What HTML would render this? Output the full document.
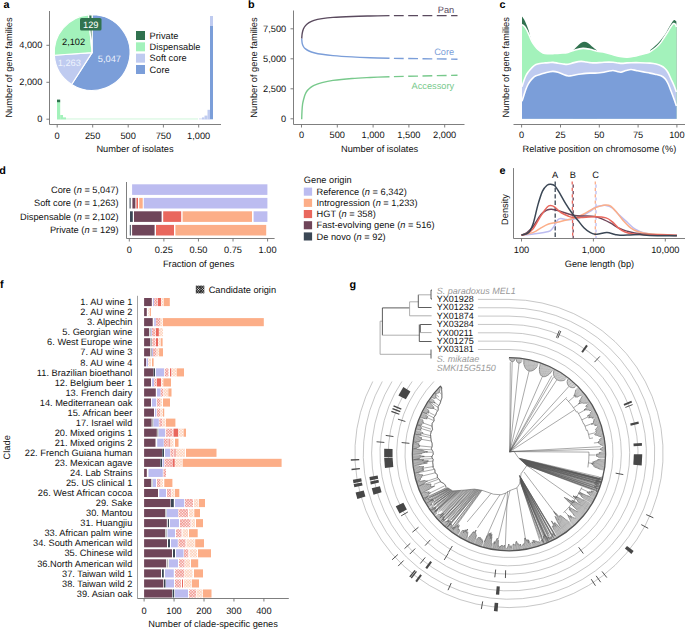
<!DOCTYPE html>
<html><head><meta charset="utf-8"><style>
html,body{margin:0;padding:0;background:#fff;}
svg{display:block;font-family:"Liberation Sans",sans-serif;text-rendering:geometricPrecision;}
</style></head><body>
<svg width="685" height="629" viewBox="0 0 685 629">
<rect width="685" height="629" fill="#fff"/>
<text x="3.50" y="7.90" font-size="10.8" font-weight="bold" fill="#000">a</text>
<line x1="49.50" y1="11.00" x2="49.50" y2="124.50" stroke="#707070" stroke-width="0.9" />
<line x1="49.50" y1="124.50" x2="221.00" y2="124.50" stroke="#707070" stroke-width="0.9" />
<line x1="46.40" y1="119.20" x2="49.50" y2="119.20" stroke="#707070" stroke-width="0.9" />
<text x="42.40" y="121.60" text-anchor="end" font-size="9.25" fill="#111" >0</text>
<line x1="46.40" y1="82.30" x2="49.50" y2="82.30" stroke="#707070" stroke-width="0.9" />
<text x="42.40" y="84.70" text-anchor="end" font-size="9.25" fill="#111" >2,000</text>
<line x1="46.40" y1="45.30" x2="49.50" y2="45.30" stroke="#707070" stroke-width="0.9" />
<text x="42.40" y="47.70" text-anchor="end" font-size="9.25" fill="#111" >4,000</text>
<line x1="57.20" y1="124.50" x2="57.20" y2="127.50" stroke="#707070" stroke-width="0.9" />
<text x="57.20" y="139.20" text-anchor="middle" font-size="9.25" fill="#111" >0</text>
<line x1="92.70" y1="124.50" x2="92.70" y2="127.50" stroke="#707070" stroke-width="0.9" />
<text x="92.70" y="139.20" text-anchor="middle" font-size="9.25" fill="#111" >250</text>
<line x1="128.20" y1="124.50" x2="128.20" y2="127.50" stroke="#707070" stroke-width="0.9" />
<text x="128.20" y="139.20" text-anchor="middle" font-size="9.25" fill="#111" >500</text>
<line x1="163.40" y1="124.50" x2="163.40" y2="127.50" stroke="#707070" stroke-width="0.9" />
<text x="163.40" y="139.20" text-anchor="middle" font-size="9.25" fill="#111" >750</text>
<line x1="198.70" y1="124.50" x2="198.70" y2="127.50" stroke="#707070" stroke-width="0.9" />
<text x="198.70" y="139.20" text-anchor="middle" font-size="9.25" fill="#111" >1,000</text>
<text x="135.00" y="151.70" text-anchor="middle" font-size="9.25" fill="#111" >Number of isolates</text>
<text x="11.90" y="67.50" text-anchor="middle" font-size="9.25" fill="#111" transform="rotate(-90 11.90 67.50)">Number of gene families</text>
<rect x="57.00" y="102.00" width="3.20" height="17.50" fill="#a3f2bb" />
<rect x="57.00" y="99.60" width="3.20" height="2.60" fill="#30724f" />
<rect x="60.20" y="115.00" width="2.80" height="4.50" fill="#a3f2bb" />
<rect x="63.00" y="117.40" width="3.00" height="2.10" fill="#a3f2bb" />
<rect x="66.00" y="118.40" width="132.00" height="1.10" fill="#d4f7de" />
<rect x="199.00" y="118.20" width="3.00" height="1.30" fill="#dfe6f8" />
<rect x="202.00" y="117.40" width="2.50" height="2.10" fill="#bfcbf0" />
<rect x="204.50" y="115.60" width="3.00" height="3.90" fill="#bfcbf0" />
<rect x="207.50" y="109.80" width="2.50" height="9.70" fill="#bfcbf0" />
<rect x="210.00" y="16.00" width="3.00" height="10.00" fill="#bfcbf0" />
<rect x="210.00" y="26.00" width="3.00" height="93.30" fill="#7b9ed9" />
<path d="M92.10,52.60 L92.10,14.70 A37.9,37.9 0 1 1 71.61,84.48 Z" fill="#7b9ed9" stroke="#fff" stroke-width="1.2" stroke-linejoin="round"/>
<path d="M92.10,52.60 L71.61,84.48 A37.9,37.9 0 0 1 54.29,55.27 Z" fill="#bfcbf0" stroke="#fff" stroke-width="1.2" stroke-linejoin="round"/>
<path d="M92.10,52.60 L54.29,55.27 A37.9,37.9 0 0 1 88.51,14.87 Z" fill="#a3f2bb" stroke="#fff" stroke-width="1.2" stroke-linejoin="round"/>
<path d="M92.10,52.60 L88.51,14.87 A37.9,37.9 0 0 1 92.10,14.70 Z" fill="#30724f" stroke="#fff" stroke-width="1.2" stroke-linejoin="round"/>
<rect x="80" y="17.9" width="21.5" height="12.6" rx="1.6" fill="#30724f"/>
<text x="90.75" y="27.60" text-anchor="middle" font-size="9.25" fill="#fff" >129</text>
<text x="73.60" y="44.80" text-anchor="middle" font-size="9.25" fill="#111" >2,102</text>
<text x="69.30" y="65.50" text-anchor="middle" font-size="9.25" fill="#eef2fc" >1,263</text>
<text x="109.40" y="61.90" text-anchor="middle" font-size="9.25" fill="#eef2fc" >5,047</text>
<rect x="136.00" y="31.00" width="9.00" height="9.00" fill="#30724f" />
<text x="149.60" y="38.70" text-anchor="start" font-size="9.25" fill="#111" >Private</text>
<rect x="136.00" y="42.33" width="9.00" height="9.00" fill="#a3f2bb" />
<text x="149.60" y="50.03" text-anchor="start" font-size="9.25" fill="#111" >Dispensable</text>
<rect x="136.00" y="53.66" width="9.00" height="9.00" fill="#bfcbf0" />
<text x="149.60" y="61.36" text-anchor="start" font-size="9.25" fill="#111" >Soft core</text>
<rect x="136.00" y="64.99" width="9.00" height="9.00" fill="#7b9ed9" />
<text x="149.60" y="72.69" text-anchor="start" font-size="9.25" fill="#111" >Core</text>
<text x="248.00" y="7.50" font-size="10.8" font-weight="bold" fill="#000">b</text>
<line x1="293.50" y1="10.50" x2="293.50" y2="124.50" stroke="#707070" stroke-width="0.9" />
<line x1="293.50" y1="124.50" x2="464.50" y2="124.50" stroke="#707070" stroke-width="0.9" />
<line x1="290.50" y1="118.80" x2="293.50" y2="118.80" stroke="#707070" stroke-width="0.9" />
<text x="286.20" y="122.20" text-anchor="end" font-size="9.25" fill="#111" >0</text>
<line x1="290.50" y1="88.80" x2="293.50" y2="88.80" stroke="#707070" stroke-width="0.9" />
<text x="286.20" y="92.20" text-anchor="end" font-size="9.25" fill="#111" >2,500</text>
<line x1="290.50" y1="58.80" x2="293.50" y2="58.80" stroke="#707070" stroke-width="0.9" />
<text x="286.20" y="62.20" text-anchor="end" font-size="9.25" fill="#111" >5,000</text>
<line x1="290.50" y1="28.80" x2="293.50" y2="28.80" stroke="#707070" stroke-width="0.9" />
<text x="286.20" y="32.20" text-anchor="end" font-size="9.25" fill="#111" >7,500</text>
<line x1="301.50" y1="124.50" x2="301.50" y2="127.50" stroke="#707070" stroke-width="0.9" />
<text x="301.50" y="138.30" text-anchor="middle" font-size="9.25" fill="#111" >0</text>
<line x1="337.30" y1="124.50" x2="337.30" y2="127.50" stroke="#707070" stroke-width="0.9" />
<text x="337.30" y="138.30" text-anchor="middle" font-size="9.25" fill="#111" >500</text>
<line x1="373.10" y1="124.50" x2="373.10" y2="127.50" stroke="#707070" stroke-width="0.9" />
<text x="373.10" y="138.30" text-anchor="middle" font-size="9.25" fill="#111" >1,000</text>
<line x1="408.90" y1="124.50" x2="408.90" y2="127.50" stroke="#707070" stroke-width="0.9" />
<text x="408.90" y="138.30" text-anchor="middle" font-size="9.25" fill="#111" >1,500</text>
<line x1="444.70" y1="124.50" x2="444.70" y2="127.50" stroke="#707070" stroke-width="0.9" />
<text x="444.70" y="138.30" text-anchor="middle" font-size="9.25" fill="#111" >2,000</text>
<text x="379.60" y="151.70" text-anchor="middle" font-size="9.25" fill="#111" >Number of isolates</text>
<text x="257.30" y="67.50" text-anchor="middle" font-size="9.25" fill="#111" transform="rotate(-90 257.30 67.50)">Number of gene families</text>
<path d="M301.70,38.60 C301.78,37.75 301.92,35.10 302.20,33.50 C302.48,31.90 302.85,30.32 303.40,29.00 C303.95,27.68 304.57,26.67 305.50,25.60 C306.43,24.53 307.58,23.48 309.00,22.60 C310.42,21.72 311.83,20.97 314.00,20.30 C316.17,19.63 318.83,19.08 322.00,18.60 C325.17,18.12 328.00,17.75 333.00,17.40 C338.00,17.05 345.83,16.73 352.00,16.50 C358.17,16.27 363.75,16.15 370.00,16.00 C376.25,15.85 386.25,15.67 389.50,15.60" fill="none" stroke="#5a4a5e" stroke-width="1.4"/>
<path d="M301.70,38.60 C301.78,39.38 301.92,41.98 302.20,43.30 C302.48,44.62 302.85,45.57 303.40,46.50 C303.95,47.43 304.57,48.15 305.50,48.90 C306.43,49.65 307.58,50.37 309.00,51.00 C310.42,51.63 311.83,52.15 314.00,52.70 C316.17,53.25 318.83,53.82 322.00,54.30 C325.17,54.78 328.00,55.17 333.00,55.60 C338.00,56.03 345.83,56.55 352.00,56.90 C358.17,57.25 363.75,57.47 370.00,57.70 C376.25,57.93 386.25,58.20 389.50,58.30" fill="none" stroke="#7b9ed9" stroke-width="1.4"/>
<path d="M301.70,119.20 C301.75,117.83 301.85,113.53 302.00,111.00 C302.15,108.47 302.33,105.92 302.60,104.00 C302.87,102.08 303.20,101.03 303.60,99.50 C304.00,97.97 304.43,96.22 305.00,94.80 C305.57,93.38 306.17,92.13 307.00,91.00 C307.83,89.87 308.83,88.93 310.00,88.00 C311.17,87.07 312.00,86.30 314.00,85.40 C316.00,84.50 318.83,83.43 322.00,82.60 C325.17,81.77 328.00,81.08 333.00,80.40 C338.00,79.72 345.83,78.98 352.00,78.50 C358.17,78.02 363.75,77.80 370.00,77.50 C376.25,77.20 386.25,76.83 389.50,76.70" fill="none" stroke="#78c98c" stroke-width="1.4"/>
<path d="M393.9,15.60 L457.5,15.60" fill="none" stroke="#5a4a5e" stroke-width="1.4" stroke-dasharray="9.8 4.5"/>
<path d="M393.9,58.35 L457.5,59.20" fill="none" stroke="#7b9ed9" stroke-width="1.4" stroke-dasharray="9.8 4.5"/>
<path d="M393.9,76.61 L457.5,75.20" fill="none" stroke="#78c98c" stroke-width="1.4" stroke-dasharray="9.8 4.5"/>
<text x="454.20" y="12.60" text-anchor="end" font-size="9.25" fill="#5a4a5e" >Pan</text>
<text x="454.20" y="54.80" text-anchor="end" font-size="9.25" fill="#7b9ed9" >Core</text>
<text x="454.20" y="89.00" text-anchor="end" font-size="9.25" fill="#78c98c" >Accessory</text>
<text x="499.60" y="7.50" font-size="10.8" font-weight="bold" fill="#000">c</text>
<line x1="513.50" y1="124.50" x2="685.00" y2="124.50" stroke="#707070" stroke-width="0.9" />
<line x1="521.60" y1="124.50" x2="521.60" y2="127.50" stroke="#707070" stroke-width="0.9" />
<text x="521.60" y="138.40" text-anchor="middle" font-size="9.25" fill="#111" >0</text>
<line x1="560.50" y1="124.50" x2="560.50" y2="127.50" stroke="#707070" stroke-width="0.9" />
<text x="560.50" y="138.40" text-anchor="middle" font-size="9.25" fill="#111" >25</text>
<line x1="599.30" y1="124.50" x2="599.30" y2="127.50" stroke="#707070" stroke-width="0.9" />
<text x="599.30" y="138.40" text-anchor="middle" font-size="9.25" fill="#111" >50</text>
<line x1="638.10" y1="124.50" x2="638.10" y2="127.50" stroke="#707070" stroke-width="0.9" />
<text x="638.10" y="138.40" text-anchor="middle" font-size="9.25" fill="#111" >75</text>
<line x1="676.90" y1="124.50" x2="676.90" y2="127.50" stroke="#707070" stroke-width="0.9" />
<text x="676.90" y="138.40" text-anchor="middle" font-size="9.25" fill="#111" >100</text>
<text x="599.40" y="151.90" text-anchor="middle" font-size="9.25" fill="#111" >Relative position on chromosome (%)</text>
<text x="508.90" y="67.30" text-anchor="middle" font-size="9.25" fill="#111" transform="rotate(-90 508.90 67.30)">Number of gene families</text>
<path d="M522.00,16.40 C522.33,16.87 523.28,17.90 524.00,19.20 C524.72,20.50 525.55,22.40 526.30,24.20 C527.05,26.00 527.85,27.95 528.50,30.00 C529.15,32.05 529.62,34.58 530.20,36.50 C530.78,38.42 531.70,40.67 532.00,41.50 L522,118.8 Z" fill="#30724f"/>
<path d="M573.00,50.40 C573.67,49.75 575.75,47.68 577.00,46.50 C578.25,45.32 579.33,44.10 580.50,43.30 C581.67,42.50 582.75,41.75 584.00,41.70 C585.25,41.65 586.67,42.20 588.00,43.00 C589.33,43.80 590.50,45.27 592.00,46.50 C593.50,47.73 596.17,49.75 597.00,50.40 L597,118.8 L573,118.8 Z" fill="#30724f"/>
<path d="M650.00,50.40 C650.83,49.67 653.33,47.57 655.00,46.00 C656.67,44.43 658.33,42.92 660.00,41.00 C661.67,39.08 663.50,36.75 665.00,34.50 C666.50,32.25 667.83,29.50 669.00,27.50 C670.17,25.50 671.12,23.75 672.00,22.50 C672.88,21.25 673.57,20.17 674.30,20.00 C675.03,19.83 676.05,21.25 676.40,21.50 L676.4,118.8 L650,118.8 Z" fill="#30724f"/>
<path d="M522.00,24.60 C522.42,24.92 523.67,25.52 524.50,26.50 C525.33,27.48 526.17,28.92 527.00,30.50 C527.83,32.08 528.67,34.17 529.50,36.00 C530.33,37.83 531.08,39.83 532.00,41.50 C532.92,43.17 534.00,44.67 535.00,46.00 C536.00,47.33 536.67,48.33 538.00,49.50 C539.33,50.67 541.33,52.28 543.00,53.00 C544.67,53.72 546.33,53.70 548.00,53.80 C549.67,53.90 551.00,53.70 553.00,53.60 C555.00,53.50 557.50,53.40 560.00,53.20 C562.50,53.00 565.50,52.95 568.00,52.40 C570.50,51.85 572.50,50.57 575.00,49.90 C577.50,49.23 580.50,48.50 583.00,48.40 C585.50,48.30 587.67,48.83 590.00,49.30 C592.33,49.77 594.50,50.68 597.00,51.20 C599.50,51.72 602.33,51.80 605.00,52.40 C607.67,53.00 610.50,54.12 613.00,54.80 C615.50,55.48 617.67,56.10 620.00,56.50 C622.33,56.90 624.67,57.23 627.00,57.20 C629.33,57.17 631.83,56.70 634.00,56.30 C636.17,55.90 638.00,55.32 640.00,54.80 C642.00,54.28 644.33,53.70 646.00,53.20 C647.67,52.70 648.33,52.75 650.00,51.80 C651.67,50.85 654.33,48.88 656.00,47.50 C657.67,46.12 658.83,44.87 660.00,43.50 C661.17,42.13 661.67,41.30 663.00,39.30 C664.33,37.30 666.67,33.63 668.00,31.50 C669.33,29.37 670.08,27.82 671.00,26.50 C671.92,25.18 672.75,23.93 673.50,23.60 C674.25,23.27 675.02,23.93 675.50,24.50 C675.98,25.07 676.25,26.58 676.40,27.00 L676.40,118.8 L522.00,118.8 Z" fill="#a3f2bb"/>
<path d="M522.00,24.60 C522.42,24.92 523.67,25.52 524.50,26.50 C525.33,27.48 526.17,28.92 527.00,30.50 C527.83,32.08 528.67,34.17 529.50,36.00 C530.33,37.83 531.08,39.83 532.00,41.50 C532.92,43.17 534.00,44.67 535.00,46.00 C536.00,47.33 536.67,48.33 538.00,49.50 C539.33,50.67 541.33,52.28 543.00,53.00 C544.67,53.72 546.33,53.70 548.00,53.80 C549.67,53.90 551.00,53.70 553.00,53.60 C555.00,53.50 557.50,53.40 560.00,53.20 C562.50,53.00 565.50,52.95 568.00,52.40 C570.50,51.85 572.50,50.57 575.00,49.90 C577.50,49.23 580.50,48.50 583.00,48.40 C585.50,48.30 587.67,48.83 590.00,49.30 C592.33,49.77 594.50,50.68 597.00,51.20 C599.50,51.72 602.33,51.80 605.00,52.40 C607.67,53.00 610.50,54.12 613.00,54.80 C615.50,55.48 617.67,56.10 620.00,56.50 C622.33,56.90 624.67,57.23 627.00,57.20 C629.33,57.17 631.83,56.70 634.00,56.30 C636.17,55.90 638.00,55.32 640.00,54.80 C642.00,54.28 644.33,53.70 646.00,53.20 C647.67,52.70 648.33,52.75 650.00,51.80 C651.67,50.85 654.33,48.88 656.00,47.50 C657.67,46.12 658.83,44.87 660.00,43.50 C661.17,42.13 661.67,41.30 663.00,39.30 C664.33,37.30 666.67,33.63 668.00,31.50 C669.33,29.37 670.08,27.82 671.00,26.50 C671.92,25.18 672.75,23.93 673.50,23.60 C674.25,23.27 675.02,23.93 675.50,24.50 C675.98,25.07 676.25,26.58 676.40,27.00" fill="none" stroke="#fff" stroke-width="1.6"/>
<path d="M522.00,86.70 C522.33,85.67 523.33,82.37 524.00,80.50 C524.67,78.63 525.33,76.88 526.00,75.50 C526.67,74.12 527.33,73.15 528.00,72.20 C528.67,71.25 529.17,70.73 530.00,69.80 C530.83,68.87 532.00,67.47 533.00,66.60 C534.00,65.73 534.83,65.12 536.00,64.60 C537.17,64.08 538.50,63.78 540.00,63.50 C541.50,63.22 543.50,63.05 545.00,62.90 C546.50,62.75 547.67,62.68 549.00,62.60 C550.33,62.52 551.50,62.30 553.00,62.40 C554.50,62.50 556.33,62.93 558.00,63.20 C559.67,63.47 561.33,63.82 563.00,64.00 C564.67,64.18 566.17,64.53 568.00,64.30 C569.83,64.07 571.83,63.08 574.00,62.60 C576.17,62.12 579.00,61.50 581.00,61.40 C583.00,61.30 584.50,61.80 586.00,62.00 C587.50,62.20 588.50,62.45 590.00,62.60 C591.50,62.75 592.67,62.97 595.00,62.90 C597.33,62.83 601.00,62.32 604.00,62.20 C607.00,62.08 610.67,62.07 613.00,62.20 C615.33,62.33 616.50,62.80 618.00,63.00 C619.50,63.20 620.50,63.42 622.00,63.40 C623.50,63.38 625.50,63.02 627.00,62.90 C628.50,62.78 628.83,62.73 631.00,62.70 C633.17,62.67 636.83,62.63 640.00,62.70 C643.17,62.77 647.33,62.88 650.00,63.10 C652.67,63.32 654.17,63.55 656.00,64.00 C657.83,64.45 659.50,65.05 661.00,65.80 C662.50,66.55 663.83,67.38 665.00,68.50 C666.17,69.62 667.00,70.75 668.00,72.50 C669.00,74.25 670.00,76.83 671.00,79.00 C672.00,81.17 673.10,83.33 674.00,85.50 C674.90,87.67 676.00,90.92 676.40,92.00 L676.40,118.8 L522.00,118.8 Z" fill="#bfcbf0"/>
<path d="M522.00,86.70 C522.33,85.67 523.33,82.37 524.00,80.50 C524.67,78.63 525.33,76.88 526.00,75.50 C526.67,74.12 527.33,73.15 528.00,72.20 C528.67,71.25 529.17,70.73 530.00,69.80 C530.83,68.87 532.00,67.47 533.00,66.60 C534.00,65.73 534.83,65.12 536.00,64.60 C537.17,64.08 538.50,63.78 540.00,63.50 C541.50,63.22 543.50,63.05 545.00,62.90 C546.50,62.75 547.67,62.68 549.00,62.60 C550.33,62.52 551.50,62.30 553.00,62.40 C554.50,62.50 556.33,62.93 558.00,63.20 C559.67,63.47 561.33,63.82 563.00,64.00 C564.67,64.18 566.17,64.53 568.00,64.30 C569.83,64.07 571.83,63.08 574.00,62.60 C576.17,62.12 579.00,61.50 581.00,61.40 C583.00,61.30 584.50,61.80 586.00,62.00 C587.50,62.20 588.50,62.45 590.00,62.60 C591.50,62.75 592.67,62.97 595.00,62.90 C597.33,62.83 601.00,62.32 604.00,62.20 C607.00,62.08 610.67,62.07 613.00,62.20 C615.33,62.33 616.50,62.80 618.00,63.00 C619.50,63.20 620.50,63.42 622.00,63.40 C623.50,63.38 625.50,63.02 627.00,62.90 C628.50,62.78 628.83,62.73 631.00,62.70 C633.17,62.67 636.83,62.63 640.00,62.70 C643.17,62.77 647.33,62.88 650.00,63.10 C652.67,63.32 654.17,63.55 656.00,64.00 C657.83,64.45 659.50,65.05 661.00,65.80 C662.50,66.55 663.83,67.38 665.00,68.50 C666.17,69.62 667.00,70.75 668.00,72.50 C669.00,74.25 670.00,76.83 671.00,79.00 C672.00,81.17 673.10,83.33 674.00,85.50 C674.90,87.67 676.00,90.92 676.40,92.00" fill="none" stroke="#fff" stroke-width="1.6"/>
<path d="M522.00,101.30 C522.33,100.25 523.33,97.05 524.00,95.00 C524.67,92.95 525.33,90.75 526.00,89.00 C526.67,87.25 527.33,85.80 528.00,84.50 C528.67,83.20 529.17,82.32 530.00,81.20 C530.83,80.08 532.00,78.70 533.00,77.80 C534.00,76.90 534.83,76.37 536.00,75.80 C537.17,75.23 538.50,74.87 540.00,74.40 C541.50,73.93 543.50,73.40 545.00,73.00 C546.50,72.60 547.67,72.27 549.00,72.00 C550.33,71.73 551.50,71.35 553.00,71.40 C554.50,71.45 556.33,71.83 558.00,72.30 C559.67,72.77 561.50,73.65 563.00,74.20 C564.50,74.75 565.83,75.32 567.00,75.60 C568.17,75.88 568.50,76.03 570.00,75.90 C571.50,75.77 574.17,75.12 576.00,74.80 C577.83,74.48 579.33,74.23 581.00,74.00 C582.67,73.77 584.50,73.55 586.00,73.40 C587.50,73.25 588.50,73.15 590.00,73.10 C591.50,73.05 593.33,73.15 595.00,73.10 C596.67,73.05 598.50,72.95 600.00,72.80 C601.50,72.65 602.67,72.45 604.00,72.20 C605.33,71.95 606.50,71.58 608.00,71.30 C609.50,71.02 611.50,70.47 613.00,70.50 C614.50,70.53 615.67,71.22 617.00,71.50 C618.33,71.78 619.50,72.35 621.00,72.20 C622.50,72.05 624.33,71.05 626.00,70.60 C627.67,70.15 629.33,69.52 631.00,69.50 C632.67,69.48 634.50,70.20 636.00,70.50 C637.50,70.80 638.50,71.02 640.00,71.30 C641.50,71.58 643.33,71.90 645.00,72.20 C646.67,72.50 648.33,72.77 650.00,73.10 C651.67,73.43 653.17,73.75 655.00,74.20 C656.83,74.65 659.33,75.07 661.00,75.80 C662.67,76.53 663.83,77.32 665.00,78.60 C666.17,79.88 667.00,81.43 668.00,83.50 C669.00,85.57 670.00,88.42 671.00,91.00 C672.00,93.58 673.10,96.50 674.00,99.00 C674.90,101.50 676.00,104.83 676.40,106.00 L676.40,118.8 L522.00,118.8 Z" fill="#7b9ed9"/>
<path d="M522.00,101.30 C522.33,100.25 523.33,97.05 524.00,95.00 C524.67,92.95 525.33,90.75 526.00,89.00 C526.67,87.25 527.33,85.80 528.00,84.50 C528.67,83.20 529.17,82.32 530.00,81.20 C530.83,80.08 532.00,78.70 533.00,77.80 C534.00,76.90 534.83,76.37 536.00,75.80 C537.17,75.23 538.50,74.87 540.00,74.40 C541.50,73.93 543.50,73.40 545.00,73.00 C546.50,72.60 547.67,72.27 549.00,72.00 C550.33,71.73 551.50,71.35 553.00,71.40 C554.50,71.45 556.33,71.83 558.00,72.30 C559.67,72.77 561.50,73.65 563.00,74.20 C564.50,74.75 565.83,75.32 567.00,75.60 C568.17,75.88 568.50,76.03 570.00,75.90 C571.50,75.77 574.17,75.12 576.00,74.80 C577.83,74.48 579.33,74.23 581.00,74.00 C582.67,73.77 584.50,73.55 586.00,73.40 C587.50,73.25 588.50,73.15 590.00,73.10 C591.50,73.05 593.33,73.15 595.00,73.10 C596.67,73.05 598.50,72.95 600.00,72.80 C601.50,72.65 602.67,72.45 604.00,72.20 C605.33,71.95 606.50,71.58 608.00,71.30 C609.50,71.02 611.50,70.47 613.00,70.50 C614.50,70.53 615.67,71.22 617.00,71.50 C618.33,71.78 619.50,72.35 621.00,72.20 C622.50,72.05 624.33,71.05 626.00,70.60 C627.67,70.15 629.33,69.52 631.00,69.50 C632.67,69.48 634.50,70.20 636.00,70.50 C637.50,70.80 638.50,71.02 640.00,71.30 C641.50,71.58 643.33,71.90 645.00,72.20 C646.67,72.50 648.33,72.77 650.00,73.10 C651.67,73.43 653.17,73.75 655.00,74.20 C656.83,74.65 659.33,75.07 661.00,75.80 C662.67,76.53 663.83,77.32 665.00,78.60 C666.17,79.88 667.00,81.43 668.00,83.50 C669.00,85.57 670.00,88.42 671.00,91.00 C672.00,93.58 673.10,96.50 674.00,99.00 C674.90,101.50 676.00,104.83 676.40,106.00" fill="none" stroke="#fff" stroke-width="1.6"/>
<text x="-0.80" y="173.60" font-size="10.8" font-weight="bold" fill="#000">d</text>
<line x1="126.50" y1="182.00" x2="126.50" y2="238.50" stroke="#707070" stroke-width="0.9" />
<line x1="126.50" y1="238.50" x2="274.60" y2="238.50" stroke="#707070" stroke-width="0.9" />
<line x1="129.30" y1="238.50" x2="129.30" y2="241.50" stroke="#707070" stroke-width="0.9" />
<text x="129.30" y="253.00" text-anchor="middle" font-size="9.25" fill="#111" >0</text>
<line x1="163.88" y1="238.50" x2="163.88" y2="241.50" stroke="#707070" stroke-width="0.9" />
<text x="163.88" y="253.00" text-anchor="middle" font-size="9.25" fill="#111" >0.25</text>
<line x1="198.45" y1="238.50" x2="198.45" y2="241.50" stroke="#707070" stroke-width="0.9" />
<text x="198.45" y="253.00" text-anchor="middle" font-size="9.25" fill="#111" >0.50</text>
<line x1="233.03" y1="238.50" x2="233.03" y2="241.50" stroke="#707070" stroke-width="0.9" />
<text x="233.03" y="253.00" text-anchor="middle" font-size="9.25" fill="#111" >0.75</text>
<line x1="267.60" y1="238.50" x2="267.60" y2="241.50" stroke="#707070" stroke-width="0.9" />
<text x="267.60" y="253.00" text-anchor="middle" font-size="9.25" fill="#111" >1.00</text>
<text x="198.70" y="266.60" text-anchor="middle" font-size="9.25" fill="#111" >Fraction of genes</text>
<text x="118.60" y="192.80" text-anchor="end" font-size="9.25" fill="#111" >Core (<tspan font-style="italic">n</tspan> = 5,047)</text>
<rect x="132.10" y="184.30" width="135.30" height="10.60" fill="#bcbcf0" />
<text x="118.60" y="206.40" text-anchor="end" font-size="9.25" fill="#111" >Soft core (<tspan font-style="italic">n</tspan> = 1,263)</text>
<rect x="129.60" y="197.90" width="1.00" height="10.60" fill="#3b4755" />
<rect x="132.40" y="197.90" width="3.00" height="10.60" fill="#6f4559" />
<rect x="136.40" y="197.90" width="1.60" height="10.60" fill="#e9675d" />
<rect x="139.20" y="197.90" width="3.50" height="10.60" fill="#fcae88" />
<rect x="143.80" y="197.90" width="123.60" height="10.60" fill="#bcbcf0" />
<text x="118.60" y="219.80" text-anchor="end" font-size="9.25" fill="#111" >Dispensable (<tspan font-style="italic">n</tspan> = 2,102)</text>
<rect x="130.00" y="211.30" width="2.80" height="10.60" fill="#3b4755" />
<rect x="134.00" y="211.30" width="27.60" height="10.60" fill="#6f4559" />
<rect x="163.20" y="211.30" width="18.00" height="10.60" fill="#e9675d" />
<rect x="182.60" y="211.30" width="69.40" height="10.60" fill="#fcae88" />
<rect x="253.60" y="211.30" width="13.80" height="10.60" fill="#bcbcf0" />
<text x="118.60" y="233.40" text-anchor="end" font-size="9.25" fill="#111" >Private (<tspan font-style="italic">n</tspan> = 129)</text>
<rect x="129.80" y="224.90" width="1.00" height="10.60" fill="#3b4755" />
<rect x="132.10" y="224.90" width="22.50" height="10.60" fill="#6f4559" />
<rect x="156.00" y="224.90" width="18.00" height="10.60" fill="#e9675d" />
<rect x="175.40" y="224.90" width="90.80" height="10.60" fill="#fcae88" />
<text x="303.80" y="183.20" text-anchor="start" font-size="9.25" fill="#111" >Gene origin</text>
<rect x="303.80" y="187.60" width="8.30" height="8.10" fill="#bcbcf0" />
<text x="316.50" y="194.85" text-anchor="start" font-size="9.25" fill="#111" >Reference (<tspan font-style="italic">n</tspan> = 6,342)</text>
<rect x="303.80" y="198.80" width="8.30" height="8.10" fill="#fcae88" />
<text x="316.50" y="206.05" text-anchor="start" font-size="9.25" fill="#111" >Introgression (<tspan font-style="italic">n</tspan> = 1,233)</text>
<rect x="303.80" y="210.00" width="8.30" height="8.10" fill="#e9675d" />
<text x="316.50" y="217.25" text-anchor="start" font-size="9.25" fill="#111" >HGT (<tspan font-style="italic">n</tspan> = 358)</text>
<rect x="303.80" y="221.20" width="8.30" height="8.10" fill="#6f4559" />
<text x="316.50" y="228.45" text-anchor="start" font-size="9.25" fill="#111" >Fast-evolving gene (<tspan font-style="italic">n</tspan> = 516)</text>
<rect x="303.80" y="232.40" width="8.30" height="8.10" fill="#3b4755" />
<text x="316.50" y="239.65" text-anchor="start" font-size="9.25" fill="#111" >De novo (<tspan font-style="italic">n</tspan> = 92)</text>
<text x="499.40" y="173.80" font-size="10.8" font-weight="bold" fill="#000">e</text>
<line x1="513.50" y1="168.10" x2="513.50" y2="238.50" stroke="#707070" stroke-width="0.9" />
<line x1="513.50" y1="238.50" x2="685.00" y2="238.50" stroke="#707070" stroke-width="0.9" />
<line x1="521.50" y1="238.50" x2="521.50" y2="241.50" stroke="#707070" stroke-width="0.9" />
<text x="521.50" y="252.70" text-anchor="middle" font-size="9.25" fill="#111" >100</text>
<line x1="593.40" y1="238.50" x2="593.40" y2="241.50" stroke="#707070" stroke-width="0.9" />
<text x="593.40" y="252.70" text-anchor="middle" font-size="9.25" fill="#111" >1,000</text>
<line x1="665.30" y1="238.50" x2="665.30" y2="241.50" stroke="#707070" stroke-width="0.9" />
<text x="665.30" y="252.70" text-anchor="middle" font-size="9.25" fill="#111" >10,000</text>
<text x="599.40" y="267.10" text-anchor="middle" font-size="9.25" fill="#111" >Gene length (bp)</text>
<text x="507.80" y="209.50" text-anchor="middle" font-size="9.25" fill="#111" transform="rotate(-90 507.80 209.50)">Density</text>
<line x1="555.20" y1="181.40" x2="555.20" y2="238.30" stroke="#3b4755" stroke-width="1.3" stroke-dasharray="4.3 2.1"/>
<line x1="572.20" y1="181.40" x2="572.70" y2="238.30" stroke="#e9675d" stroke-width="1.3" stroke-dasharray="3.2 3.2"/>
<line x1="573.20" y1="181.40" x2="573.20" y2="238.30" stroke="#6f4559" stroke-width="1.3" stroke-dasharray="3.2 3.2" stroke-dashoffset="3.2"/>
<line x1="595.30" y1="181.40" x2="595.30" y2="238.30" stroke="#fcae88" stroke-width="1.3" stroke-dasharray="3.2 3.2"/>
<line x1="596.00" y1="181.40" x2="596.00" y2="238.30" stroke="#bcbcf0" stroke-width="1.3" stroke-dasharray="3.2 3.2" stroke-dashoffset="3.2"/>
<text x="555.10" y="177.90" text-anchor="middle" font-size="9.25" fill="#111" >A</text>
<text x="572.80" y="177.90" text-anchor="middle" font-size="9.25" fill="#111" >B</text>
<text x="595.60" y="177.90" text-anchor="middle" font-size="9.25" fill="#111" >C</text>
<path d="M521.50,235.20 C523.47,235.00 529.55,234.47 533.30,234.00 C537.05,233.53 541.18,232.92 544.00,232.40 C546.82,231.88 548.53,231.92 550.20,230.90 C551.87,229.88 552.73,228.15 554.00,226.30 C555.27,224.45 556.65,221.10 557.80,219.80 C558.95,218.50 559.62,218.57 560.90,218.50 C562.18,218.43 563.72,219.22 565.50,219.40 C567.28,219.58 569.05,220.02 571.60,219.60 C574.15,219.18 577.73,218.25 580.80,216.90 C583.87,215.55 587.58,213.12 590.00,211.50 C592.42,209.88 593.63,208.13 595.30,207.20 C596.97,206.27 598.22,206.20 600.00,205.90 C601.78,205.60 603.97,205.07 606.00,205.40 C608.03,205.73 609.88,206.20 612.20,207.90 C614.52,209.60 617.35,213.17 619.90,215.60 C622.45,218.03 624.95,220.23 627.50,222.50 C630.05,224.77 632.38,227.45 635.20,229.20 C638.02,230.95 641.10,232.10 644.40,233.00 C647.70,233.90 649.58,234.22 655.00,234.60 C660.42,234.98 673.25,235.18 676.90,235.30" fill="none" stroke="#bcbcf0" stroke-width="1.5"/>
<path d="M521.50,235.20 C523.47,234.73 530.05,233.63 533.30,232.40 C536.55,231.17 538.45,229.20 541.00,227.80 C543.55,226.40 546.05,224.88 548.60,224.00 C551.15,223.12 553.48,223.13 556.30,222.50 C559.12,221.87 562.43,220.97 565.50,220.20 C568.57,219.43 571.63,218.93 574.70,217.90 C577.77,216.87 580.83,215.53 583.90,214.00 C586.97,212.47 590.42,210.02 593.10,208.70 C595.78,207.38 597.85,206.73 600.00,206.10 C602.15,205.47 604.22,204.90 606.00,204.90 C607.78,204.90 608.90,204.83 610.70,206.10 C612.50,207.37 614.77,210.15 616.80,212.50 C618.83,214.85 620.60,217.65 622.90,220.20 C625.20,222.75 628.05,225.88 630.60,227.80 C633.15,229.72 635.13,230.72 638.20,231.70 C641.27,232.68 642.55,233.12 649.00,233.70 C655.45,234.28 672.25,234.95 676.90,235.20" fill="none" stroke="#fcae88" stroke-width="1.5"/>
<path d="M521.50,235.20 C522.42,234.75 525.03,233.98 527.00,232.50 C528.97,231.02 530.97,229.30 533.30,226.30 C535.63,223.30 538.70,217.22 541.00,214.50 C543.30,211.78 545.32,210.88 547.10,210.00 C548.88,209.12 549.65,209.03 551.70,209.20 C553.75,209.37 556.58,210.20 559.40,211.00 C562.22,211.80 566.05,213.23 568.60,214.00 C571.15,214.77 572.15,215.27 574.70,215.60 C577.25,215.93 580.58,215.85 583.90,216.00 C587.22,216.15 591.42,215.93 594.60,216.50 C597.78,217.07 600.32,218.28 603.00,219.40 C605.68,220.52 608.15,221.80 610.70,223.20 C613.25,224.60 615.75,226.52 618.30,227.80 C620.85,229.08 622.17,229.87 626.00,230.90 C629.83,231.93 632.82,233.23 641.30,234.00 C649.78,234.77 670.97,235.25 676.90,235.50" fill="none" stroke="#6f4559" stroke-width="1.5"/>
<path d="M521.50,235.20 C522.42,234.92 525.03,234.62 527.00,233.50 C528.97,232.38 530.97,231.48 533.30,228.50 C535.63,225.52 538.70,219.15 541.00,215.60 C543.30,212.05 545.52,208.87 547.10,207.20 C548.68,205.53 549.22,205.60 550.50,205.60 C551.78,205.60 553.07,206.05 554.80,207.20 C556.53,208.35 558.60,210.98 560.90,212.50 C563.20,214.02 566.55,215.45 568.60,216.30 C570.65,217.15 571.17,217.38 573.20,217.60 C575.23,217.82 577.12,217.73 580.80,217.60 C584.48,217.47 591.10,216.75 595.30,216.80 C599.50,216.85 603.18,217.08 606.00,217.90 C608.82,218.72 610.15,220.05 612.20,221.70 C614.25,223.35 616.25,226.13 618.30,227.80 C620.35,229.47 621.95,230.67 624.50,231.70 C627.05,232.73 629.52,233.50 633.60,234.00 C637.68,234.50 641.78,234.45 649.00,234.70 C656.22,234.95 672.25,235.37 676.90,235.50" fill="none" stroke="#e9675d" stroke-width="1.5"/>
<path d="M521.50,235.20 C522.70,234.73 526.73,234.40 528.70,232.40 C530.67,230.40 531.77,227.78 533.30,223.20 C534.83,218.62 536.37,210.25 537.90,204.90 C539.43,199.55 540.97,194.38 542.50,191.10 C544.03,187.82 545.77,186.35 547.10,185.20 C548.43,184.05 549.22,184.12 550.50,184.20 C551.78,184.28 553.32,184.30 554.80,185.70 C556.28,187.10 557.62,189.67 559.40,192.60 C561.18,195.53 563.47,199.98 565.50,203.30 C567.53,206.62 569.55,209.68 571.60,212.50 C573.65,215.32 575.75,217.65 577.80,220.20 C579.85,222.75 581.87,225.77 583.90,227.80 C585.93,229.83 588.15,231.33 590.00,232.40 C591.85,233.47 593.33,233.98 595.00,234.20 C596.67,234.42 598.00,233.97 600.00,233.70 C602.00,233.43 604.50,232.47 607.00,232.60 C609.50,232.73 612.83,234.05 615.00,234.50 C617.17,234.95 617.50,235.22 620.00,235.30 C622.50,235.38 626.67,235.12 630.00,235.00 C633.33,234.88 636.67,234.53 640.00,234.60 C643.33,234.67 643.85,235.20 650.00,235.40 C656.15,235.60 672.42,235.73 676.90,235.80" fill="none" stroke="#3b4755" stroke-width="1.5"/>
<text x="0.10" y="287.90" font-size="10.8" font-weight="bold" fill="#000">f</text>
<defs><pattern id="hh" width="2.0" height="2.0" patternUnits="userSpaceOnUse" patternTransform="rotate(45)"><rect width="2.0" height="2.0" fill="#fff"/><path d="M0,0.45 H2 M0.45,0 V2" stroke="#e9675d" stroke-width="0.62" opacity="0.9"/></pattern><pattern id="hi" width="2.0" height="2.0" patternUnits="userSpaceOnUse" patternTransform="rotate(45)"><rect width="2.0" height="2.0" fill="#fff"/><path d="M0,0.45 H2 M0.45,0 V2" stroke="#fcae88" stroke-width="0.55" opacity="0.85"/></pattern><pattern id="hk" width="1.8" height="1.8" patternUnits="userSpaceOnUse" patternTransform="rotate(45)"><rect width="1.8" height="1.8" fill="#fff"/><path d="M0,0.45 H1.8 M0.45,0 V1.8" stroke="#222" stroke-width="0.95"/></pattern></defs>
<rect x="195.80" y="285.60" width="8.50" height="7.80" fill="url(#hk)" />
<text x="208.70" y="292.80" text-anchor="start" font-size="9.25" fill="#111" >Candidate origin</text>
<line x1="137.50" y1="295.80" x2="137.50" y2="598.60" stroke="#8a8a8a" stroke-width="0.8" />
<line x1="137.50" y1="598.50" x2="288.80" y2="598.50" stroke="#707070" stroke-width="0.9" />
<line x1="144.10" y1="598.50" x2="144.10" y2="601.50" stroke="#707070" stroke-width="0.9" />
<text x="144.10" y="613.60" text-anchor="middle" font-size="9.25" fill="#111" >0</text>
<line x1="174.05" y1="598.50" x2="174.05" y2="601.50" stroke="#707070" stroke-width="0.9" />
<text x="174.05" y="613.60" text-anchor="middle" font-size="9.25" fill="#111" >100</text>
<line x1="204.00" y1="598.50" x2="204.00" y2="601.50" stroke="#707070" stroke-width="0.9" />
<text x="204.00" y="613.60" text-anchor="middle" font-size="9.25" fill="#111" >200</text>
<line x1="233.95" y1="598.50" x2="233.95" y2="601.50" stroke="#707070" stroke-width="0.9" />
<text x="233.95" y="613.60" text-anchor="middle" font-size="9.25" fill="#111" >300</text>
<line x1="263.90" y1="598.50" x2="263.90" y2="601.50" stroke="#707070" stroke-width="0.9" />
<text x="263.90" y="613.60" text-anchor="middle" font-size="9.25" fill="#111" >400</text>
<text x="213.10" y="626.50" text-anchor="middle" font-size="9.25" fill="#111" >Number of clade-specific genes</text>
<text x="10.50" y="447.30" text-anchor="middle" font-size="9.25" fill="#111" transform="rotate(-90 10.50 447.30)">Clade</text>
<text x="132.30" y="305.20" text-anchor="end" font-size="9.25" fill="#111" >1. AU wine 1</text>
<rect x="144.10" y="298.00" width="7.70" height="8.10" fill="#6f4559" />
<rect x="153.00" y="298.00" width="1.00" height="8.10" fill="#bcbcf0" />
<rect x="154.20" y="298.00" width="3.40" height="8.10" fill="url(#hh)" />
<rect x="158.00" y="298.00" width="3.00" height="8.10" fill="#e9675d" />
<rect x="161.30" y="298.00" width="2.20" height="8.10" fill="url(#hi)" />
<rect x="163.80" y="298.00" width="6.00" height="8.10" fill="#fcae88" />
<text x="132.30" y="315.25" text-anchor="end" font-size="9.25" fill="#111" >2. AU wine 2</text>
<rect x="144.10" y="308.05" width="2.70" height="8.10" fill="#6f4559" />
<rect x="148.30" y="308.05" width="1.50" height="8.10" fill="url(#hi)" />
<rect x="150.10" y="308.05" width="0.90" height="8.10" fill="#fcae88" />
<text x="132.30" y="325.30" text-anchor="end" font-size="9.25" fill="#111" >3. Alpechin</text>
<rect x="144.10" y="318.10" width="8.60" height="8.10" fill="#6f4559" />
<rect x="154.20" y="318.10" width="1.60" height="8.10" fill="#bcbcf0" />
<rect x="156.00" y="318.10" width="4.00" height="8.10" fill="url(#hh)" />
<rect x="160.00" y="318.10" width="2.50" height="8.10" fill="url(#hi)" />
<rect x="163.00" y="318.10" width="100.80" height="8.10" fill="#fcae88" />
<text x="132.30" y="335.35" text-anchor="end" font-size="9.25" fill="#111" >5. Georgian wine</text>
<rect x="144.10" y="328.15" width="4.90" height="8.10" fill="#6f4559" />
<rect x="149.50" y="328.15" width="1.30" height="8.10" fill="#b5b5b5" />
<rect x="151.00" y="328.15" width="0.80" height="8.10" fill="#bcbcf0" />
<rect x="152.00" y="328.15" width="3.50" height="8.10" fill="url(#hh)" />
<rect x="156.00" y="328.15" width="2.80" height="8.10" fill="#e9675d" />
<rect x="159.00" y="328.15" width="4.00" height="8.10" fill="url(#hi)" />
<text x="132.30" y="345.40" text-anchor="end" font-size="9.25" fill="#111" >6. West Europe wine</text>
<rect x="144.10" y="338.20" width="6.00" height="8.10" fill="#6f4559" />
<rect x="150.30" y="338.20" width="1.70" height="8.10" fill="#b5b5b5" />
<rect x="152.30" y="338.20" width="3.20" height="8.10" fill="url(#hh)" />
<rect x="156.00" y="338.20" width="2.00" height="8.10" fill="#e9675d" />
<rect x="158.30" y="338.20" width="2.20" height="8.10" fill="url(#hi)" />
<rect x="160.80" y="338.20" width="1.80" height="8.10" fill="#fcae88" />
<text x="132.30" y="355.45" text-anchor="end" font-size="9.25" fill="#111" >7. AU wine 3</text>
<rect x="144.10" y="348.25" width="6.00" height="8.10" fill="#6f4559" />
<rect x="150.50" y="348.25" width="1.50" height="8.10" fill="#b5b5b5" />
<rect x="152.00" y="348.25" width="1.00" height="8.10" fill="#bcbcf0" />
<rect x="153.00" y="348.25" width="3.50" height="8.10" fill="url(#hh)" />
<rect x="156.50" y="348.25" width="2.30" height="8.10" fill="url(#hi)" />
<rect x="159.10" y="348.25" width="3.90" height="8.10" fill="#fcae88" />
<text x="132.30" y="365.50" text-anchor="end" font-size="9.25" fill="#111" >8. AU wine 4</text>
<rect x="144.10" y="358.30" width="1.90" height="8.10" fill="#6f4559" />
<rect x="146.50" y="358.30" width="1.50" height="8.10" fill="#bcbcf0" />
<rect x="148.30" y="358.30" width="2.70" height="8.10" fill="url(#hi)" />
<rect x="152.00" y="358.30" width="1.60" height="8.10" fill="#fcae88" />
<text x="132.30" y="375.55" text-anchor="end" font-size="9.25" fill="#111" >11. Brazilian bioethanol</text>
<rect x="144.10" y="368.35" width="9.40" height="8.10" fill="#6f4559" />
<rect x="153.70" y="368.35" width="1.30" height="8.10" fill="#3b4755" />
<rect x="155.90" y="368.35" width="8.10" height="8.10" fill="#bcbcf0" />
<rect x="164.80" y="368.35" width="3.70" height="8.10" fill="url(#hh)" />
<rect x="170.00" y="368.35" width="1.30" height="8.10" fill="#e9675d" />
<rect x="171.80" y="368.35" width="4.20" height="8.10" fill="url(#hi)" />
<rect x="176.60" y="368.35" width="7.40" height="8.10" fill="#fcae88" />
<text x="132.30" y="385.60" text-anchor="end" font-size="9.25" fill="#111" >12. Belgium beer 1</text>
<rect x="144.10" y="378.40" width="6.90" height="8.10" fill="#6f4559" />
<rect x="152.00" y="378.40" width="2.00" height="8.10" fill="#bcbcf0" />
<rect x="154.30" y="378.40" width="1.90" height="8.10" fill="url(#hh)" />
<rect x="156.80" y="378.40" width="4.20" height="8.10" fill="#e9675d" />
<rect x="161.50" y="378.40" width="1.50" height="8.10" fill="url(#hi)" />
<rect x="163.30" y="378.40" width="7.70" height="8.10" fill="#fcae88" />
<text x="132.30" y="395.65" text-anchor="end" font-size="9.25" fill="#111" >13. French dairy</text>
<rect x="144.10" y="388.45" width="11.70" height="8.10" fill="#6f4559" />
<rect x="157.00" y="388.45" width="3.60" height="8.10" fill="#bcbcf0" />
<rect x="160.80" y="388.45" width="2.50" height="8.10" fill="url(#hh)" />
<rect x="164.00" y="388.45" width="4.00" height="8.10" fill="url(#hi)" />
<rect x="168.30" y="388.45" width="3.20" height="8.10" fill="#fcae88" />
<text x="132.30" y="405.70" text-anchor="end" font-size="9.25" fill="#111" >14. Mediterranean oak</text>
<rect x="144.10" y="398.50" width="6.90" height="8.10" fill="#6f4559" />
<rect x="152.00" y="398.50" width="4.20" height="8.10" fill="#bcbcf0" />
<rect x="157.00" y="398.50" width="3.00" height="8.10" fill="url(#hh)" />
<rect x="160.00" y="398.50" width="2.00" height="8.10" fill="url(#hi)" />
<rect x="163.00" y="398.50" width="7.00" height="8.10" fill="#fcae88" />
<text x="132.30" y="415.75" text-anchor="end" font-size="9.25" fill="#111" >15. African beer</text>
<rect x="144.10" y="408.55" width="9.90" height="8.10" fill="#6f4559" />
<rect x="155.00" y="408.55" width="1.30" height="8.10" fill="#bcbcf0" />
<rect x="157.00" y="408.55" width="3.00" height="8.10" fill="url(#hh)" />
<rect x="160.30" y="408.55" width="2.50" height="8.10" fill="url(#hi)" />
<rect x="163.00" y="408.55" width="1.20" height="8.10" fill="#fcae88" />
<text x="132.30" y="425.80" text-anchor="end" font-size="9.25" fill="#111" >17. Israel wild</text>
<rect x="144.10" y="418.60" width="7.50" height="8.10" fill="#6f4559" />
<rect x="151.80" y="418.60" width="1.70" height="8.10" fill="#b5b5b5" />
<rect x="153.60" y="418.60" width="5.20" height="8.10" fill="#bcbcf0" />
<rect x="159.30" y="418.60" width="3.00" height="8.10" fill="url(#hh)" />
<rect x="162.50" y="418.60" width="3.00" height="8.10" fill="url(#hi)" />
<rect x="166.00" y="418.60" width="9.40" height="8.10" fill="#fcae88" />
<text x="132.30" y="435.85" text-anchor="end" font-size="9.25" fill="#111" >20. Mixed origins 1</text>
<rect x="144.10" y="428.65" width="12.70" height="8.10" fill="#6f4559" />
<rect x="157.00" y="428.65" width="1.50" height="8.10" fill="#b5b5b5" />
<rect x="158.60" y="428.65" width="6.40" height="8.10" fill="#bcbcf0" />
<rect x="165.80" y="428.65" width="6.70" height="8.10" fill="url(#hh)" />
<rect x="173.50" y="428.65" width="4.70" height="8.10" fill="#e9675d" />
<rect x="178.50" y="428.65" width="4.50" height="8.10" fill="url(#hi)" />
<rect x="183.50" y="428.65" width="2.50" height="8.10" fill="#fcae88" />
<text x="132.30" y="445.90" text-anchor="end" font-size="9.25" fill="#111" >21. Mixed origins 2</text>
<rect x="144.10" y="438.70" width="11.40" height="8.10" fill="#6f4559" />
<rect x="157.20" y="438.70" width="6.50" height="8.10" fill="#bcbcf0" />
<rect x="164.00" y="438.70" width="3.80" height="8.10" fill="url(#hh)" />
<rect x="168.60" y="438.70" width="1.00" height="8.10" fill="#e9675d" />
<rect x="170.00" y="438.70" width="3.50" height="8.10" fill="url(#hi)" />
<rect x="175.00" y="438.70" width="3.50" height="8.10" fill="#fcae88" />
<text x="132.30" y="455.95" text-anchor="end" font-size="9.25" fill="#111" >22. French Guiana human</text>
<rect x="144.10" y="448.75" width="17.90" height="8.10" fill="#6f4559" />
<rect x="162.30" y="448.75" width="1.70" height="8.10" fill="#3b4755" />
<rect x="165.00" y="448.75" width="5.00" height="8.10" fill="#bcbcf0" />
<rect x="170.50" y="448.75" width="3.00" height="8.10" fill="url(#hh)" />
<rect x="174.50" y="448.75" width="1.00" height="8.10" fill="#e9675d" />
<rect x="176.00" y="448.75" width="9.00" height="8.10" fill="url(#hi)" />
<rect x="186.00" y="448.75" width="30.50" height="8.10" fill="#fcae88" />
<text x="132.30" y="466.00" text-anchor="end" font-size="9.25" fill="#111" >23. Mexican agave</text>
<rect x="144.10" y="458.80" width="16.10" height="8.10" fill="#6f4559" />
<rect x="160.40" y="458.80" width="1.60" height="8.10" fill="#3b4755" />
<rect x="162.60" y="458.80" width="1.40" height="8.10" fill="#bcbcf0" />
<rect x="164.50" y="458.80" width="8.00" height="8.10" fill="url(#hh)" />
<rect x="172.70" y="458.80" width="2.00" height="8.10" fill="#e9675d" />
<rect x="175.00" y="458.80" width="7.00" height="8.10" fill="url(#hi)" />
<rect x="182.60" y="458.80" width="99.00" height="8.10" fill="#fcae88" />
<text x="132.30" y="476.05" text-anchor="end" font-size="9.25" fill="#111" >24. Lab Strains</text>
<rect x="144.10" y="468.85" width="2.70" height="8.10" fill="#6f4559" />
<rect x="148.50" y="468.85" width="14.30" height="8.10" fill="#bcbcf0" />
<rect x="163.50" y="468.85" width="2.50" height="8.10" fill="url(#hh)" />
<text x="132.30" y="486.10" text-anchor="end" font-size="9.25" fill="#111" >25. US clinical 1</text>
<rect x="144.10" y="478.90" width="6.90" height="8.10" fill="#6f4559" />
<rect x="151.30" y="478.90" width="1.20" height="8.10" fill="#b5b5b5" />
<rect x="153.00" y="478.90" width="3.00" height="8.10" fill="#bcbcf0" />
<rect x="157.00" y="478.90" width="3.00" height="8.10" fill="url(#hh)" />
<rect x="160.00" y="478.90" width="3.00" height="8.10" fill="url(#hi)" />
<rect x="164.30" y="478.90" width="8.10" height="8.10" fill="#fcae88" />
<text x="132.30" y="496.15" text-anchor="end" font-size="9.25" fill="#111" >26. West African cocoa</text>
<rect x="144.10" y="488.95" width="13.90" height="8.10" fill="#6f4559" />
<rect x="159.20" y="488.95" width="6.80" height="8.10" fill="#bcbcf0" />
<rect x="167.00" y="488.95" width="4.00" height="8.10" fill="url(#hh)" />
<rect x="171.50" y="488.95" width="3.00" height="8.10" fill="url(#hi)" />
<rect x="175.00" y="488.95" width="4.30" height="8.10" fill="#fcae88" />
<text x="132.30" y="506.20" text-anchor="end" font-size="9.25" fill="#111" >29. Sake</text>
<rect x="144.10" y="499.00" width="26.40" height="8.10" fill="#6f4559" />
<rect x="171.00" y="499.00" width="2.80" height="8.10" fill="#3b4755" />
<rect x="175.00" y="499.00" width="9.20" height="8.10" fill="#bcbcf0" />
<rect x="185.00" y="499.00" width="8.00" height="8.10" fill="url(#hh)" />
<rect x="194.00" y="499.00" width="4.50" height="8.10" fill="url(#hi)" />
<rect x="199.00" y="499.00" width="6.00" height="8.10" fill="#fcae88" />
<text x="132.30" y="516.25" text-anchor="end" font-size="9.25" fill="#111" >30. Mantou</text>
<rect x="144.10" y="509.05" width="20.90" height="8.10" fill="#6f4559" />
<rect x="165.20" y="509.05" width="1.30" height="8.10" fill="#b5b5b5" />
<rect x="166.80" y="509.05" width="11.20" height="8.10" fill="#bcbcf0" />
<rect x="178.50" y="509.05" width="9.50" height="8.10" fill="url(#hh)" />
<rect x="189.00" y="509.05" width="4.50" height="8.10" fill="url(#hi)" />
<rect x="194.30" y="509.05" width="5.70" height="8.10" fill="#fcae88" />
<text x="132.30" y="526.30" text-anchor="end" font-size="9.25" fill="#111" >31. Huangjiu</text>
<rect x="144.10" y="519.10" width="22.70" height="8.10" fill="#6f4559" />
<rect x="167.80" y="519.10" width="1.20" height="8.10" fill="#3b4755" />
<rect x="170.00" y="519.10" width="9.00" height="8.10" fill="#bcbcf0" />
<rect x="180.00" y="519.10" width="10.50" height="8.10" fill="url(#hh)" />
<rect x="191.50" y="519.10" width="3.50" height="8.10" fill="url(#hi)" />
<rect x="196.00" y="519.10" width="7.00" height="8.10" fill="#fcae88" />
<text x="132.30" y="536.35" text-anchor="end" font-size="9.25" fill="#111" >33. African palm wine</text>
<rect x="144.10" y="529.15" width="20.90" height="8.10" fill="#6f4559" />
<rect x="165.30" y="529.15" width="1.50" height="8.10" fill="#b5b5b5" />
<rect x="167.50" y="529.15" width="7.50" height="8.10" fill="#bcbcf0" />
<rect x="176.00" y="529.15" width="5.50" height="8.10" fill="url(#hh)" />
<rect x="182.60" y="529.15" width="5.40" height="8.10" fill="url(#hi)" />
<rect x="189.00" y="529.15" width="8.70" height="8.10" fill="#fcae88" />
<text x="132.30" y="546.40" text-anchor="end" font-size="9.25" fill="#111" >34. South American wild</text>
<rect x="144.10" y="539.20" width="22.90" height="8.10" fill="#6f4559" />
<rect x="168.00" y="539.20" width="2.00" height="8.10" fill="#3b4755" />
<rect x="171.00" y="539.20" width="6.80" height="8.10" fill="#bcbcf0" />
<rect x="178.50" y="539.20" width="7.00" height="8.10" fill="url(#hh)" />
<rect x="186.50" y="539.20" width="8.00" height="8.10" fill="url(#hi)" />
<rect x="195.20" y="539.20" width="8.80" height="8.10" fill="#fcae88" />
<text x="132.30" y="556.45" text-anchor="end" font-size="9.25" fill="#111" >35. Chinese wild</text>
<rect x="144.10" y="549.25" width="27.90" height="8.10" fill="#6f4559" />
<rect x="173.00" y="549.25" width="2.00" height="8.10" fill="#3b4755" />
<rect x="176.00" y="549.25" width="7.50" height="8.10" fill="#bcbcf0" />
<rect x="184.00" y="549.25" width="4.30" height="8.10" fill="url(#hh)" />
<rect x="189.50" y="549.25" width="7.50" height="8.10" fill="url(#hi)" />
<rect x="198.00" y="549.25" width="13.00" height="8.10" fill="#fcae88" />
<text x="132.30" y="566.50" text-anchor="end" font-size="9.25" fill="#111" >36.North American wild</text>
<rect x="144.10" y="559.30" width="22.10" height="8.10" fill="#6f4559" />
<rect x="167.00" y="559.30" width="1.20" height="8.10" fill="#b5b5b5" />
<rect x="169.00" y="559.30" width="9.00" height="8.10" fill="#bcbcf0" />
<rect x="179.00" y="559.30" width="5.50" height="8.10" fill="url(#hh)" />
<rect x="185.00" y="559.30" width="5.00" height="8.10" fill="url(#hi)" />
<rect x="191.00" y="559.30" width="7.20" height="8.10" fill="#fcae88" />
<text x="132.30" y="576.55" text-anchor="end" font-size="9.25" fill="#111" >37. Taiwan wild 1</text>
<rect x="144.10" y="569.35" width="16.90" height="8.10" fill="#6f4559" />
<rect x="162.00" y="569.35" width="1.80" height="8.10" fill="#3b4755" />
<rect x="165.00" y="569.35" width="8.80" height="8.10" fill="#bcbcf0" />
<rect x="175.00" y="569.35" width="9.00" height="8.10" fill="url(#hh)" />
<rect x="184.50" y="569.35" width="8.00" height="8.10" fill="url(#hi)" />
<rect x="194.00" y="569.35" width="9.00" height="8.10" fill="#fcae88" />
<text x="132.30" y="586.60" text-anchor="end" font-size="9.25" fill="#111" >38. Taiwan wild 2</text>
<rect x="144.10" y="579.40" width="19.20" height="8.10" fill="#6f4559" />
<rect x="164.00" y="579.40" width="1.50" height="8.10" fill="#3b4755" />
<rect x="166.00" y="579.40" width="8.00" height="8.10" fill="#bcbcf0" />
<rect x="175.00" y="579.40" width="6.00" height="8.10" fill="url(#hh)" />
<rect x="182.00" y="579.40" width="1.00" height="8.10" fill="#e9675d" />
<rect x="184.00" y="579.40" width="7.50" height="8.10" fill="url(#hi)" />
<rect x="192.00" y="579.40" width="7.00" height="8.10" fill="#fcae88" />
<text x="132.30" y="596.65" text-anchor="end" font-size="9.25" fill="#111" >39. Asian oak</text>
<rect x="144.10" y="589.45" width="27.90" height="8.10" fill="#6f4559" />
<rect x="172.60" y="589.45" width="1.60" height="8.10" fill="#3b4755" />
<rect x="175.00" y="589.45" width="13.00" height="8.10" fill="#bcbcf0" />
<rect x="189.00" y="589.45" width="7.00" height="8.10" fill="url(#hh)" />
<rect x="196.50" y="589.45" width="6.00" height="8.10" fill="url(#hi)" />
<rect x="203.00" y="589.45" width="8.50" height="8.10" fill="#fcae88" />
<text x="349.60" y="287.60" font-size="10.8" font-weight="bold" fill="#000">g</text>
<line x1="380.10" y1="321.20" x2="380.10" y2="354.30" stroke="#9a9a9a" stroke-width="0.8" />
<line x1="380.10" y1="321.20" x2="382.40" y2="321.20" stroke="#9a9a9a" stroke-width="0.8" />
<line x1="382.40" y1="307.90" x2="382.40" y2="335.20" stroke="#333" stroke-width="0.8" />
<line x1="382.40" y1="307.90" x2="409.60" y2="307.90" stroke="#333" stroke-width="0.8" />
<line x1="409.60" y1="301.80" x2="409.60" y2="315.80" stroke="#9a9a9a" stroke-width="0.8" />
<line x1="409.60" y1="315.80" x2="431.60" y2="315.80" stroke="#9a9a9a" stroke-width="0.8" />
<line x1="409.60" y1="301.80" x2="418.30" y2="301.80" stroke="#9a9a9a" stroke-width="0.8" />
<line x1="418.30" y1="294.80" x2="418.30" y2="307.50" stroke="#333" stroke-width="0.8" />
<line x1="418.30" y1="307.50" x2="431.60" y2="307.50" stroke="#333" stroke-width="0.8" />
<line x1="418.30" y1="294.80" x2="430.80" y2="294.80" stroke="#9a9a9a" stroke-width="0.8" />
<line x1="431.00" y1="290.10" x2="431.00" y2="299.00" stroke="#333" stroke-width="0.8" />
<line x1="431.00" y1="290.10" x2="432.00" y2="290.10" stroke="#333" stroke-width="0.8" />
<line x1="431.00" y1="299.00" x2="432.00" y2="299.00" stroke="#333" stroke-width="0.8" />
<line x1="382.40" y1="335.20" x2="419.30" y2="335.20" stroke="#9a9a9a" stroke-width="0.8" />
<line x1="419.30" y1="324.50" x2="419.30" y2="341.50" stroke="#333" stroke-width="0.8" />
<line x1="420.30" y1="324.50" x2="431.60" y2="324.50" stroke="#333" stroke-width="0.8" />
<line x1="420.30" y1="324.50" x2="420.30" y2="332.60" stroke="#333" stroke-width="0.8" />
<line x1="420.30" y1="332.60" x2="431.60" y2="332.60" stroke="#9a9a9a" stroke-width="0.8" />
<line x1="419.30" y1="341.50" x2="431.60" y2="341.50" stroke="#333" stroke-width="0.8" />
<line x1="380.10" y1="354.30" x2="431.00" y2="354.30" stroke="#9a9a9a" stroke-width="0.8" />
<line x1="431.00" y1="349.50" x2="431.00" y2="358.50" stroke="#333" stroke-width="0.8" />
<text x="436.70" y="293.50" text-anchor="start" font-size="9.0" fill="#9a9a9a" font-style="italic">S. paradoxus MEL1</text>
<text x="436.70" y="352.20" text-anchor="start" font-size="9.0" fill="#111" >YX03181</text>
<path d="M477.9,349.50 L509.0,349.50 A104.00,104.00 0 1 1 433.95,381.50" fill="none" stroke="#a8a8a8" stroke-width="0.65"/>
<text x="436.70" y="343.85" text-anchor="start" font-size="9.0" fill="#111" >YX01275</text>
<path d="M477.9,341.15 L509.0,341.15 A112.35,112.35 0 1 1 422.75,381.50" fill="none" stroke="#a8a8a8" stroke-width="0.65"/>
<text x="436.70" y="335.50" text-anchor="start" font-size="9.0" fill="#111" >YX00211</text>
<path d="M477.9,332.80 L509.0,332.80 A120.70,120.70 0 1 1 412.13,381.50" fill="none" stroke="#a8a8a8" stroke-width="0.65"/>
<text x="436.70" y="327.15" text-anchor="start" font-size="9.0" fill="#111" >YX03284</text>
<path d="M477.9,324.45 L509.0,324.45 A129.05,129.05 0 1 1 401.90,381.50" fill="none" stroke="#a8a8a8" stroke-width="0.65"/>
<text x="436.70" y="318.80" text-anchor="start" font-size="9.0" fill="#111" >YX01874</text>
<path d="M477.9,316.10 L509.0,316.10 A137.40,137.40 0 1 1 391.98,381.50" fill="none" stroke="#a8a8a8" stroke-width="0.65"/>
<text x="436.70" y="310.45" text-anchor="start" font-size="9.0" fill="#111" >YX01232</text>
<path d="M477.9,307.75 L509.0,307.75 A145.75,145.75 0 1 1 382.28,381.50" fill="none" stroke="#a8a8a8" stroke-width="0.65"/>
<text x="436.70" y="302.10" text-anchor="start" font-size="9.0" fill="#111" >YX01928</text>
<path d="M477.9,299.40 L509.0,299.40 A154.10,154.10 0 1 1 372.75,381.50" fill="none" stroke="#a8a8a8" stroke-width="0.65"/>
<text x="436.70" y="361.80" text-anchor="start" font-size="9.0" fill="#9a9a9a" font-style="italic">S. mikatae</text>
<text x="436.70" y="370.80" text-anchor="start" font-size="9.0" fill="#9a9a9a" font-style="italic">SMKI15G5150</text>
<line x1="556.40" y1="337.67" x2="559.35" y2="330.45" stroke="#404040" stroke-width="0.9" />
<line x1="557.76" y1="338.24" x2="560.80" y2="331.06" stroke="#404040" stroke-width="0.9" />
<polygon points="581.30,351.72 586.17,344.87 587.84,346.08 582.87,352.85" fill="#474747"/>
<line x1="594.50" y1="362.11" x2="599.83" y2="356.42" stroke="#404040" stroke-width="0.9" />
<polygon points="623.65,404.07 631.36,400.74 632.08,402.45 624.32,405.67" fill="#474747"/>
<line x1="625.36" y1="407.44" x2="632.62" y2="404.57" stroke="#404040" stroke-width="0.9" />
<polygon points="630.21,423.59 638.37,421.58 638.90,423.79 630.71,425.66" fill="#474747"/>
<polygon points="633.46,443.62 641.83,442.96 642.02,445.64 633.63,446.13" fill="#474747"/>
<polygon points="633.85,454.22 642.25,454.27 641.70,465.61 633.33,464.85" fill="#474747"/>
<line x1="615.65" y1="473.17" x2="623.32" y2="474.58" stroke="#404040" stroke-width="0.9" />
<line x1="646.21" y1="514.60" x2="653.34" y2="517.77" stroke="#404040" stroke-width="0.9" />
<line x1="641.29" y1="524.63" x2="648.16" y2="528.32" stroke="#404040" stroke-width="0.9" />
<polygon points="627.03,545.90 633.65,551.08 631.40,553.88 624.90,548.56" fill="#474747"/>
<line x1="578.65" y1="547.26" x2="583.30" y2="553.52" stroke="#404040" stroke-width="0.9" />
<line x1="591.22" y1="579.20" x2="595.48" y2="585.73" stroke="#404040" stroke-width="0.9" />
<line x1="596.14" y1="575.84" x2="600.66" y2="582.19" stroke="#404040" stroke-width="0.9" />
<line x1="602.00" y1="571.44" x2="606.83" y2="577.57" stroke="#404040" stroke-width="0.9" />
<line x1="495.69" y1="569.54" x2="494.80" y2="577.29" stroke="#404040" stroke-width="0.9" />
<line x1="505.64" y1="570.25" x2="505.41" y2="578.05" stroke="#404040" stroke-width="0.9" />
<line x1="451.21" y1="583.04" x2="448.03" y2="590.17" stroke="#404040" stroke-width="0.9" />
<polygon points="499.79,586.38 499.21,594.76 495.92,594.49 496.70,586.13" fill="#474747"/>
<line x1="482.69" y1="601.38" x2="481.33" y2="609.06" stroke="#404040" stroke-width="0.9" />
<polygon points="498.20,603.01 497.60,611.39 493.91,611.08 494.71,602.72" fill="#474747"/>
<line x1="448.27" y1="553.27" x2="444.21" y2="559.93" stroke="#404040" stroke-width="0.9" />
<line x1="452.35" y1="545.98" x2="448.28" y2="552.63" stroke="#404040" stroke-width="0.9" />
<line x1="407.88" y1="511.95" x2="401.13" y2="515.86" stroke="#404040" stroke-width="0.9" />
<line x1="418.44" y1="527.26" x2="412.39" y2="532.18" stroke="#404040" stroke-width="0.9" />
<line x1="430.34" y1="539.84" x2="425.08" y2="545.60" stroke="#404040" stroke-width="0.9" />
<line x1="410.28" y1="543.37" x2="404.52" y2="548.62" stroke="#404040" stroke-width="0.9" />
<line x1="415.23" y1="548.52" x2="409.75" y2="554.07" stroke="#404040" stroke-width="0.9" />
<line x1="397.85" y1="554.53" x2="392.08" y2="559.77" stroke="#404040" stroke-width="0.9" />
<line x1="403.62" y1="560.52" x2="398.14" y2="566.08" stroke="#404040" stroke-width="0.9" />
<line x1="425.22" y1="557.44" x2="420.32" y2="563.51" stroke="#404040" stroke-width="0.9" />
<polygon points="432.00,562.19 427.15,569.05 425.31,567.72 430.27,560.94" fill="#474747"/>
<polygon points="415.58,570.73 410.35,577.30 409.23,576.40 414.52,569.88" fill="#474747"/>
<polygon points="416.98,571.83 411.82,578.46 410.69,577.57 415.91,570.99" fill="#474747"/>
<polygon points="421.85,575.46 416.97,582.30 415.30,581.09 420.27,574.32" fill="#474747"/>
<polygon points="406.87,509.55 399.50,513.59 395.76,506.20 403.38,502.66" fill="#474747"/>
<polygon points="361.76,481.61 353.51,483.19 352.89,479.75 361.17,478.36" fill="#474747"/>
<polygon points="362.56,485.51 354.35,487.30 353.68,484.09 361.92,482.46" fill="#474747"/>
<polygon points="365.42,496.56 357.37,498.97 355.59,492.54 363.73,490.46" fill="#474747"/>
<polygon points="378.23,478.82 369.98,480.42 369.36,476.97 377.64,475.58" fill="#474747"/>
<polygon points="379.02,482.59 370.82,484.43 370.18,481.40 378.41,479.75" fill="#474747"/>
<polygon points="381.58,492.32 373.55,494.77 371.75,488.31 379.89,486.25" fill="#474747"/>
<polygon points="359.26,460.36 350.87,460.75 350.81,459.31 359.20,459.00" fill="#474747"/>
<polygon points="359.94,469.34 351.59,470.23 351.44,468.80 359.80,467.99" fill="#474747"/>
<polygon points="392.55,457.08 384.16,457.33 384.19,448.64 392.59,448.97" fill="#474747"/>
<polygon points="393.29,467.01 384.94,467.99 384.18,457.88 392.57,457.58" fill="#474747"/>
<line x1="384.34" y1="442.44" x2="376.57" y2="441.75" stroke="#404040" stroke-width="0.9" />
<line x1="393.44" y1="436.55" x2="385.72" y2="435.42" stroke="#404040" stroke-width="0.9" />
<line x1="409.42" y1="443.34" x2="401.66" y2="442.55" stroke="#404040" stroke-width="0.9" />
<line x1="405.38" y1="421.49" x2="397.93" y2="419.18" stroke="#404040" stroke-width="0.9" />
<polygon points="401.04,409.72 393.26,406.56 393.81,405.22 401.56,408.47" fill="#474747"/>
<polygon points="400.06,412.23 392.20,409.25 392.72,407.90 400.54,410.97" fill="#474747"/>
<polygon points="399.12,414.79 391.20,412.00 391.61,410.83 399.51,413.70" fill="#474747"/>
<polygon points="405.85,399.35 398.41,395.44 403.32,386.93 410.43,391.40" fill="#474747"/>
<path d="M446.2,487.6 L445.4,485.2 L443.6,483.3 L440.5,481.9 L439.5,479.5 L437.3,477.5 L437.4,474.7 L435.0,472.7 L434.9,469.9 L433.2,467.6 L433.0,464.9 L432.7,462.2 L433.2,459.5 L431.6,456.9 L433.3,454.2 L432.9,451.5 L431.3,448.8 L432.2,446.1 L432.1,443.4 L431.2,440.5 L430.8,437.6 L430.5,434.6 L431.1,431.9 L432.6,429.4 L432.0,426.2 L432.2,423.2 L434.1,420.9 L433.8,417.5 L435.6,415.2 L436.6,412.4 L438.2,410.0 L438.2,406.4 L439.9,404.0 L440.8,400.9 L441.9,397.9 L441.9,393.8 L441.6,389.1 L440.7,385.9" fill="none" stroke="#666" stroke-width="0.6"/>
<path d="M509.3,358.4L509.3,357.6M510.3,360.6L510.3,357.6M511.3,361.4L511.4,357.6M512.2,361.7L512.4,357.7M513.2,361.5L513.4,357.7M514.2,360.7L514.4,357.8M515.3,358.6L515.4,357.8M516.0,358.7L516.1,357.9M516.8,361.5L517.1,357.9M517.7,362.6L518.1,358.0M518.6,363.1L519.1,358.1M519.5,363.1L520.1,358.2M520.6,362.8L521.1,358.4M521.7,361.7L522.1,358.5M523.7,359.5L523.8,358.7M523.9,364.2L524.8,358.9M524.5,366.3L525.8,359.1M525.2,367.7L526.8,359.2M525.9,368.8L527.8,359.4M526.7,369.7L528.8,359.6M527.5,370.3L529.7,359.9M528.3,370.7L530.7,360.1M529.1,371.0L531.7,360.3M530.0,371.1L532.7,360.6M531.0,371.1L533.7,360.8M532.0,370.8L534.7,361.1M533.0,370.4L535.6,361.3M534.2,369.7L536.6,361.6M535.5,368.6L537.6,361.9M537.0,366.9L538.5,362.2M540.2,363.6L540.4,362.9M539.3,369.0L541.4,363.2M539.5,371.4L542.4,363.5M539.8,373.1L543.3,363.9M540.3,374.3L544.2,364.3M540.9,375.3L545.2,364.6M541.6,376.0L546.1,365.0M542.3,376.4L547.1,365.4M543.2,376.7L548.0,365.8M544.1,376.7L548.9,366.2M545.2,376.6L549.8,366.7M546.4,376.1L550.7,367.1M547.8,375.3L551.6,367.5M549.6,373.9L552.6,368.0M552.3,370.7L553.5,368.4M554.0,369.6L554.4,368.9M553.4,372.8L555.2,369.4M553.5,374.5L556.1,369.9M553.9,375.8L557.0,370.4M554.4,376.9L557.9,370.9M554.9,377.8L558.8,371.4M555.5,378.5L559.6,371.9M556.2,379.2L560.5,372.5M557.0,379.7L561.3,373.0M557.8,380.2L562.2,373.6M558.7,380.5L563.0,374.1M559.7,380.8L563.9,374.7M560.7,380.9L564.7,375.3M561.9,380.8L565.5,375.9M563.3,380.6L566.3,376.4M565.0,379.9L567.1,377.1M568.0,378.7L568.5,378.1M567.2,381.3L569.3,378.7M567.2,382.8L570.1,379.3M567.5,384.0L570.8,380.0M567.9,385.0L571.6,380.6M568.5,385.8L572.4,381.3M569.2,386.4L573.1,382.0M569.9,387.0L573.9,382.6M570.8,387.4L574.6,383.3M571.9,387.7L575.4,384.0M573.2,387.7L576.1,384.7M574.9,387.4L576.8,385.4M575.7,389.8L578.5,387.1M575.5,391.1L579.1,387.7M575.2,392.4L579.6,388.3M574.7,394.0L580.2,388.9M573.8,395.9L580.8,389.6M575.9,395.0L581.3,390.2M574.9,396.9L581.9,390.8M575.9,397.0L582.5,391.5M577.1,397.1L583.0,392.1M580.4,395.4L583.5,392.8M581.1,395.8L584.1,393.4M582.6,395.6L584.6,394.1M581.3,397.7L585.1,394.7M580.3,399.5L585.6,395.4M579.2,401.3L586.1,396.1M580.7,401.1L586.7,396.7M578.6,403.6L587.2,397.4M580.4,403.3L587.6,398.1M582.2,402.9L588.1,398.8M583.2,403.2L588.6,399.5M584.7,403.2L589.1,400.2M586.1,403.2L589.6,400.9M587.8,403.0L590.0,401.6M587.9,403.9L590.5,402.3M585.7,406.3L590.9,403.0M587.1,406.3L591.4,403.7M587.2,407.2L591.8,404.4M584.0,410.0L592.2,405.2M585.9,409.8L592.7,405.9M587.4,409.9L593.1,406.6M588.9,409.9L593.5,407.4M589.4,410.6L593.9,408.1M591.4,410.4L594.3,408.8M592.0,411.0L594.7,409.6M590.3,412.8L595.1,410.3M590.8,413.4L595.5,411.1M587.4,416.0L595.8,411.9M590.2,415.5L596.2,412.6M588.8,417.0L596.5,413.4M588.7,417.9L596.9,414.1M592.2,417.1L597.2,414.9M591.9,418.1L597.6,415.7M594.4,418.0L597.9,416.5M595.5,418.4L598.2,417.2M593.4,420.1L598.6,418.0M594.4,420.6L598.9,418.8M593.0,422.0L599.2,419.6M593.6,422.6L599.5,420.4M591.4,424.2L599.8,421.2M594.2,424.0L600.1,422.0M594.8,424.7L600.3,422.8M594.8,425.5L600.6,423.5M597.7,425.4L600.9,424.3M597.8,426.2L601.1,425.2M597.3,427.2L601.4,426.0M596.6,428.2L601.6,426.8M595.5,429.4L601.9,427.6M595.9,430.1L602.1,428.4M596.2,430.8L602.3,429.2M595.6,431.8L602.5,430.0M596.3,432.4L602.7,430.8M596.0,433.3L602.9,431.6M594.6,434.4L603.1,432.5M595.5,435.0L603.3,433.3M597.3,435.4L603.5,434.1M598.5,436.0L603.7,434.9M599.8,436.5L603.8,435.8M601.8,437.0L604.0,436.6M602.3,437.7L604.1,437.4M600.2,438.9L604.3,438.3M599.3,439.9L604.4,439.1M600.0,440.6L604.5,439.9M598.4,441.6L604.7,440.8M598.0,442.5L604.8,441.6M598.9,443.2L604.9,442.4M599.6,443.9L605.0,443.3M600.2,444.6L605.1,444.1M601.8,445.3L605.2,444.9M602.9,446.0L605.2,445.8M603.8,446.9L605.3,446.8M601.8,447.9L605.4,447.6M600.3,448.8L605.4,448.5M600.3,449.6L605.5,449.3M602.1,450.3L605.5,450.2M602.6,451.1L605.5,451.0M601.8,451.9L605.6,451.8M599.0,452.8L605.6,452.7M599.7,453.6L605.6,453.5M596.3,454.4L605.6,454.4M596.9,455.1L605.6,455.2M596.0,455.9L605.6,456.1M598.1,456.7L605.6,456.9M598.6,457.5L605.5,457.7M601.0,459.0L605.5,459.3M597.7,459.6L605.4,460.1M597.9,460.4L605.4,460.9M595.6,461.0L605.3,461.8M594.1,461.6L605.2,462.6M592.6,462.2L605.2,463.5M594.4,463.2L605.1,464.3M591.4,463.6L605.0,465.1M592.1,464.4L604.9,466.0M593.9,465.4L604.8,466.8M593.5,466.1L604.7,467.6M594.8,467.0L604.5,468.5M597.7,468.2L604.4,469.3M600.1,469.4L604.3,470.1M602.2,476.6L602.9,476.8M601.8,477.2L602.8,477.4M600.2,477.5L602.6,478.1M598.9,477.8L602.4,478.7M599.8,478.7L602.3,479.4M599.2,479.2L602.1,480.0M599.5,480.0L601.9,480.7M599.0,480.5L601.7,481.3M596.3,480.4L601.5,482.0M598.1,481.6L601.3,482.6M595.7,481.5L601.1,483.2M595.6,482.2L600.9,483.9M596.6,483.2L600.7,484.5M597.6,484.2L600.5,485.2M594.7,483.9L600.3,485.8M596.4,485.1L600.1,486.4M596.5,485.9L599.8,487.1M596.7,486.7L599.6,487.7M594.4,486.5L599.4,488.3M596.0,487.8L599.1,489.0M596.5,488.7L598.9,489.6M596.0,489.2L598.6,490.2M596.9,490.2L598.4,490.9M595.9,490.5L598.1,491.5M596.5,491.5L597.9,492.1M596.9,492.4L597.6,492.7M594.0,491.7L597.4,493.2M590.8,491.0L597.1,493.9M592.2,492.5L596.8,494.6M588.8,491.7L596.4,495.3M589.3,492.7L596.1,495.9M587.0,492.3L595.8,496.6M588.6,493.9L595.5,497.3M591.3,496.1L595.1,498.0M590.4,496.6L594.7,498.8M587.2,495.7L594.3,499.5M579.7,492.4L594.0,500.1M582.5,494.7L593.6,500.8M578.6,493.2L593.2,501.5M580.8,495.2L592.9,502.1M581.1,496.2L592.5,502.8M583.4,498.3L592.1,503.4M584.7,500.2L591.5,504.4M582.9,499.9L591.1,505.0M575.6,496.2L590.7,505.7M577.2,497.9L590.3,506.3M573.0,495.9L589.9,507.0M575.8,498.5L589.5,507.6M577.4,500.4L589.1,508.2M577.5,501.2L588.7,508.8M580.8,504.3L588.2,509.5M581.6,505.6L587.8,510.0M573.8,500.9L587.4,510.6M571.8,500.2L587.0,511.3M574.7,503.1L586.5,511.9M570.7,500.9L586.0,512.5M567.6,499.2L585.6,513.1M564.3,497.4L585.1,513.7M566.6,499.9L584.7,514.3M571.6,504.7L584.2,514.9M577.3,510.2L583.7,515.4M578.5,512.1L583.2,516.0M575.8,510.8L582.7,516.6M573.1,509.3L582.2,517.2M570.5,507.9L581.7,517.8M569.3,507.7L581.2,518.3M570.7,509.8L580.7,518.9M569.2,509.4L580.2,519.5M572.9,513.7L579.7,520.0M574.5,516.1L579.2,520.6M575.7,518.1L578.7,521.1M574.6,518.1L578.2,521.6M573.0,517.6L577.7,522.1M570.0,515.5L577.1,522.7M571.7,518.2L576.6,523.2M567.9,515.3L576.0,523.7M568.7,517.1L575.5,524.3M569.8,519.3L574.9,524.8M570.5,521.1L574.4,525.3M570.0,521.6L573.8,525.8M566.9,519.7L573.0,526.5M566.5,520.2L572.4,527.0M563.1,517.3L571.9,527.5M561.1,515.9L571.3,528.0M559.9,515.5L570.7,528.5M559.7,516.3L570.1,529.0M559.8,517.4L569.5,529.5M555.4,512.8L568.9,530.0M553.7,511.6L568.3,530.4M559.2,519.8L567.7,530.9M558.3,519.6L567.1,531.3M555.1,516.4L566.5,531.8M555.9,518.5L565.9,532.3M557.3,521.5L565.3,532.7M560.6,527.3L564.7,533.1M560.6,528.7L564.0,533.6M556.8,524.3L563.4,534.0M554.7,522.5L562.7,534.5M554.3,523.0L562.1,534.9M555.9,526.6L561.5,535.3M551.4,520.9L560.8,535.7M554.4,526.8L560.2,536.1M552.9,525.7L559.5,536.5M552.4,526.2L558.9,536.9M554.1,530.3L558.2,537.3M556.5,535.9L557.6,537.7M555.0,534.7L556.9,538.1M554.0,534.4L556.3,538.4M552.7,533.6L555.6,538.8M552.5,534.6L554.9,539.2M552.3,535.8L554.3,539.5M552.0,536.7L553.6,539.9M551.2,536.9L552.9,540.2M551.1,538.2L552.3,540.6M549.9,537.6L551.6,540.9M549.7,538.8L550.9,541.2M547.9,536.7L550.2,541.6M548.0,538.7L549.5,541.9M546.4,536.7L548.8,542.2M544.7,534.7L548.1,542.5M544.3,535.6L547.4,542.8M543.8,536.3L546.7,543.1M543.2,536.5L546.0,543.4M543.4,538.9L545.3,543.7M542.8,539.4L544.6,544.0M542.3,540.1L543.9,544.3M541.6,540.2L543.2,544.5M541.2,541.2L542.5,544.8M540.5,542.2L541.6,545.1M539.9,542.6L540.8,545.4M538.9,541.9L540.1,545.6M538.0,541.6L539.4,545.9M537.3,541.8L538.7,546.1M536.3,541.2L538.0,546.4M535.6,541.2L537.2,546.6M534.6,540.5L536.5,546.8M534.6,543.0L535.8,547.0M533.1,540.1L535.1,547.2M533.1,542.9L534.3,547.4M532.1,541.9L533.6,547.6M531.8,543.8L532.9,547.8M530.9,544.2L531.9,548.1M529.9,542.8L531.1,548.2M528.4,539.8L530.4,548.4M528.5,543.1L529.7,548.6M527.0,539.5L528.9,548.7M526.6,541.2L528.2,548.9M525.3,538.2L527.4,549.0M524.7,538.2L526.7,549.2M524.7,542.6L525.9,549.3M524.1,543.1L525.2,549.4M523.7,544.7L524.4,549.6M522.9,544.5L523.7,549.7M522.4,546.2L522.9,549.8M521.6,547.3L521.9,549.9M520.4,544.1L521.2,550.0M519.9,545.3L520.4,550.1M519.1,544.9L519.7,550.2M518.3,543.7L518.9,550.3M517.6,544.2L518.2,550.4M516.6,541.4L517.4,550.4M516.0,541.7L516.7,550.5M515.5,545.1L515.9,550.6M514.8,545.3L515.1,550.6M514.0,544.1L514.4,550.6M513.3,544.0L513.6,550.7M512.7,546.2L512.9,550.7M511.8,548.8L511.9,550.8M511.0,545.6L511.1,550.8M510.3,547.6L510.3,550.8M509.6,546.9L509.6,550.8M508.8,544.0L508.8,550.8M508.1,546.2L508.1,550.8M507.4,548.0L507.3,550.8M506.6,548.1L506.6,550.8M505.7,548.5L505.6,550.7M505.1,547.2L505.0,550.7M504.6,545.2L504.3,550.7M503.9,546.1L503.6,550.6M503.2,546.2L502.9,550.6M502.6,545.5L502.3,550.6M501.9,546.2L501.6,550.5M501.4,545.3L500.9,550.5M500.6,546.5L500.2,550.4M500.0,546.1L499.6,550.3M499.1,548.6L498.9,550.3M498.7,547.1L498.4,550.2M498.3,545.2L497.7,550.1M498.3,540.2L497.1,550.1M497.8,539.5L496.4,550.0M497.3,538.2L495.7,549.9M496.6,539.4L495.1,549.8M495.6,541.6L494.4,549.7M494.6,543.9L493.7,549.6M494.4,541.6L493.1,549.5M493.2,544.8L492.4,549.4M492.0,545.9L491.4,549.2M491.9,543.2L490.7,549.1M491.4,542.4L490.1,548.9M491.8,537.0L489.4,548.8M491.8,534.3L488.8,548.7M490.2,538.9L488.1,548.5M491.0,532.7L487.4,548.4M489.6,536.3L486.8,548.2M489.6,533.7L486.1,548.1M489.2,533.1L485.5,547.9M487.9,535.9L484.8,547.7M487.3,535.7L484.2,547.6M485.7,539.5L483.5,547.4M484.2,542.6L482.9,547.2M482.6,543.4L481.6,546.8M482.7,540.7L480.9,546.6M481.9,541.2L480.3,546.4M481.9,539.2L479.6,546.2M481.4,538.7L479.0,546.0M480.4,539.7L478.3,545.8M480.4,537.6L477.7,545.6M479.8,537.6L477.1,545.4M479.1,537.6L476.4,545.1M478.6,537.1L475.8,544.9M477.2,539.3L475.2,544.7M476.7,538.8L474.5,544.4M475.5,539.3L473.6,544.1M476.3,535.4L473.0,543.8M476.0,534.8L472.3,543.6M475.8,533.5L471.7,543.3M475.3,533.1L471.1,543.1M476.0,530.1L470.5,542.8M474.1,532.9L469.9,542.5M474.0,531.8L469.2,542.2M473.2,531.9L468.6,542.0M471.8,533.7L468.0,541.7M470.1,535.7L467.4,541.4M468.5,537.7L466.8,541.1M466.9,538.6L465.9,540.7M467.3,536.3L465.3,540.3M467.6,534.5L464.7,540.0M467.8,532.7L464.1,539.7M467.5,531.9L463.5,539.4M466.2,533.0L462.9,539.1M467.7,529.0L462.3,538.8M465.4,531.9L461.7,538.4M465.9,529.7L461.1,538.1M463.3,533.0L460.6,537.8M464.3,530.1L460.0,537.4M463.1,530.8L459.4,537.1M462.7,530.3L458.8,536.7M461.4,531.3L458.2,536.4M458.8,533.0L457.1,535.7M459.5,530.7L456.5,535.3M459.3,529.8L456.0,534.9M459.0,529.2L455.4,534.6M457.8,529.9L454.8,534.2M458.4,527.9L454.3,533.8M459.3,525.5L453.7,533.4M456.9,527.7L453.2,533.0M458.4,524.6L452.6,532.6M456.3,526.5L452.1,532.3M455.1,527.1L451.5,531.9M453.3,528.4L451.0,531.4M453.3,527.3L450.5,531.0M451.9,528.1L449.9,530.6M450.6,527.7L448.9,529.8M451.5,525.5L448.3,529.4M451.6,524.4L447.8,529.0M450.9,524.2L447.3,528.5M450.2,524.1L446.8,528.1M449.2,524.2L446.3,527.7M450.7,521.5L445.8,527.2M450.0,521.4L445.2,526.8M449.7,520.7L444.7,526.3M448.0,521.8L444.2,525.9M448.6,520.2L443.7,525.4M446.0,522.0L443.2,525.0M445.4,521.7L442.7,524.5M444.4,521.8L442.3,524.0M443.2,521.2L441.3,523.1M444.3,519.1L440.8,522.6M442.9,519.7L440.3,522.1M443.9,517.7L439.9,521.7M444.3,516.5L439.4,521.2M442.6,517.2L438.9,520.7M441.8,517.1L438.5,520.2M443.4,514.8L438.0,519.7M443.5,513.8L437.6,519.2M442.8,513.6L437.1,518.7M441.5,513.9L436.7,518.2M439.8,514.6L436.2,517.7M439.0,514.4L435.8,517.2M438.2,514.3L435.3,516.7M436.5,513.9L434.5,515.6M436.3,513.3L434.0,515.1M436.2,512.5L433.6,514.6M437.0,511.1L433.2,514.1M437.9,509.5L432.8,513.5M435.7,510.5L432.4,513.0M435.0,510.2L432.0,512.5M435.0,509.3L431.5,511.9M435.9,507.9L431.1,511.4M435.3,507.6L430.7,510.8M433.4,508.1L430.4,510.3M432.8,507.8L430.0,509.7M432.9,506.9L429.6,509.2M432.1,506.7L429.2,508.6M430.8,506.0L428.4,507.5M431.9,504.4L428.1,507.0M430.5,504.6L427.7,506.4M431.8,503.0L427.3,505.8M433.2,501.4L427.0,505.2M433.9,500.2L426.6,504.7M431.4,501.0L426.3,504.1M433.1,499.3L425.9,503.5M431.5,499.5L425.6,502.9M431.6,498.7L425.3,502.4M428.5,499.7L424.9,501.8M429.0,498.8L424.6,501.2M428.0,498.5L424.3,500.6M424.4,499.2L423.7,499.6M427.4,496.8L423.4,498.9M428.2,495.6L423.0,498.2M428.7,494.5L422.7,497.5M430.4,492.9L422.3,496.8M428.0,493.3L422.0,496.2M429.3,491.9L421.7,495.5M427.4,492.0L421.3,494.8M423.8,492.8L421.0,494.1M421.5,493.3L420.8,493.6M429.8,488.8L420.5,492.9M434.6,486.0L420.2,492.2M430.6,487.0L419.9,491.5M431.1,486.1L419.6,490.8M430.7,485.6L419.3,490.1M431.0,484.7L419.0,489.4M430.9,484.1L418.8,488.7M429.0,484.1L418.5,488.0M425.5,484.6L418.2,487.3M418.7,486.3L418.0,486.5M424.4,483.5L417.7,485.8M424.8,482.6L417.5,485.1M427.4,481.1L417.2,484.4M425.6,480.9L417.0,483.7M424.7,480.5L416.8,482.9M417.7,481.9L416.6,482.2M417.2,481.5L416.4,481.7M420.4,479.8L416.2,481.0M420.5,479.0L416.0,480.3M420.5,478.3L415.8,479.5M421.8,477.2L415.6,478.8M421.4,476.5L415.4,478.1M422.5,475.5L415.2,477.3M422.6,474.8L415.0,476.6M420.3,474.6L414.9,475.9M419.1,474.2L414.7,475.1M418.0,473.6L414.5,474.4M415.1,473.3L414.3,473.4M420.0,471.6L414.2,472.7M423.9,470.1L414.0,472.0M423.6,469.5L413.9,471.2M421.8,469.1L413.8,470.5M423.8,468.1L413.7,469.7M422.5,467.6L413.5,469.0M423.8,466.7L413.4,468.2M419.9,466.6L413.3,467.5M418.7,466.0L413.2,466.7M413.9,465.9L413.1,466.0M421.6,464.2L413.0,465.2M427.4,462.9L412.9,464.4M423.5,462.6L412.9,463.7M425.7,461.8L412.8,462.9M428.4,460.9L412.7,462.2M422.0,460.7L412.7,461.4M423.8,459.9L412.6,460.7M416.6,459.7L412.6,459.9M413.4,459.7L412.6,459.7M419.4,458.6L412.5,459.0M419.3,457.9L412.5,458.2M420.7,457.2L412.5,457.5M424.3,456.4L412.4,456.7M420.9,455.8L412.4,456.0M419.0,455.1L412.4,455.2M413.2,454.4L412.4,454.4M421.8,453.7L412.4,453.7M421.8,453.0L412.4,452.9M425.0,452.4L412.4,452.2M427.6,451.8L412.4,451.4M424.3,451.1L412.5,450.6M422.7,450.3L412.5,449.9M416.5,449.3L412.5,449.1M413.4,448.8L412.6,448.7M416.8,448.2L412.6,448.0M417.3,447.5L412.7,447.2M419.3,447.0L412.7,446.4M419.5,446.3L412.8,445.7M419.9,445.6L412.8,444.9M418.1,444.7L412.9,444.2M419.2,444.1L413.0,443.4M417.4,443.2L413.1,442.7M414.6,442.1L413.2,441.9M414.0,441.9L413.2,441.8M419.5,441.9L413.3,441.0M419.0,441.1L413.4,440.3M420.7,440.6L413.5,439.5M420.7,439.9L413.6,438.8M421.8,439.4L413.8,438.0M421.0,438.5L413.9,437.3M422.0,438.0L414.0,436.5M419.3,436.8L414.2,435.8M418.2,435.8L414.3,435.0M415.3,434.3L414.5,434.2M421.2,434.9L414.7,433.4M420.7,434.0L414.8,432.7M420.6,433.3L415.0,431.9M423.2,433.2L415.2,431.2M422.0,432.1L415.4,430.5M416.4,429.7L415.6,429.5M421.2,430.2L415.8,428.7M420.3,429.2L416.0,428.0M421.3,428.7L416.2,427.3M422.0,428.2L416.4,426.5M421.0,427.1L416.7,425.8M419.8,426.0L416.9,425.1M417.8,424.9L417.0,424.7M421.1,425.2L417.3,424.0M422.0,424.8L417.5,423.2M421.5,423.8L417.7,422.5M422.0,423.2L418.0,421.8M423.7,423.1L418.3,421.1M423.1,422.1L418.5,420.4M423.0,421.3L418.8,419.7M422.9,420.5L419.1,419.0M422.3,419.4L419.3,418.3M420.5,417.5L419.8,417.2M424.9,418.6L420.1,416.5M427.2,418.8L420.4,415.8M426.1,417.5L420.7,415.1M427.5,417.4L421.0,414.4M427.8,416.7L421.3,413.7M425.0,414.6L421.6,413.0M422.8,412.4L422.1,412.1M426.9,413.6L422.4,411.4M426.7,412.7L422.7,410.7M428.8,413.0L423.1,410.0M427.9,411.7L423.4,409.4M429.1,411.5L423.8,408.7M428.7,410.5L424.2,408.0M427.3,408.9L424.5,407.4M425.6,407.0L424.9,406.6M429.0,408.1L425.3,406.0M430.9,408.4L425.7,405.3M432.4,408.5L426.1,404.7M433.6,408.4L426.5,404.0M433.8,407.7L426.8,403.4M433.6,406.7L427.2,402.7M431.2,404.4L427.7,402.1M428.9,402.0L428.1,401.5M429.0,401.5L428.3,401.0M432.2,402.7L428.8,400.4M433.3,402.5L429.2,399.8M435.1,403.0L429.6,399.1M433.9,401.2L430.1,398.5M433.9,400.4L430.5,397.9M431.8,397.4L431.2,397.0M434.5,398.5L431.6,396.4M435.1,398.0L432.1,395.7M436.3,398.0L432.6,395.1M435.9,396.8L433.0,394.5M435.9,395.9L433.5,393.9M435.5,394.6L434.0,393.4M434.8,393.6L434.2,393.1M436.2,393.8L434.7,392.5M437.1,393.6L435.1,391.9M437.4,392.9L435.6,391.4M438.7,393.0L436.1,390.8M439.0,392.3L436.6,390.2M439.2,391.5L437.1,389.7M439.9,391.2L437.6,389.1M439.9,390.1L438.2,388.5M440.1,389.4L438.7,388.0M440.6,388.8L439.2,387.4M440.4,387.3L439.8,386.8M442.0,387.8L440.4,386.2" fill="none" stroke="#5a5a5a" stroke-width="0.42"/>
<path d="M509.8,451.6L512.2,361.7M509.8,451.6L519.0,363.1M509.8,451.6L529.1,371.0M509.8,451.6L542.4,376.5M509.8,451.6L556.9,379.7M509.8,451.6L569.0,386.3M509.8,451.6L510.3,362.2M509.8,451.6L551.8,375.6M509.8,451.6L553.5,377.1M571.6,405.3L571.6,405.3M576.4,412.1L577.3,411.5M580.7,417.7L580.7,417.7M583.6,424.0L584.1,423.9M586.5,430.5L587.4,430.2M589.5,438.6L593.0,437.9M509.8,451.6L566.8,397.4M509.8,451.6L574.4,409.9M568.5,401.5L574.6,396.2M573.5,407.8L580.1,403.0M578.5,413.6L585.5,409.6M581.8,419.9L588.2,416.8M585.0,426.2L592.1,423.5M588.6,434.4L595.0,432.8M593.9,443.0L598.8,442.4M509.8,451.6L600.7,446.7M509.8,451.6L589.0,452.1M509.8,451.6L600.5,449.2M589.0,455.0L595.6,455.0M588.5,462.9L593.1,463.4M518.9,458.2L599.4,477.0M519.1,458.4L600.5,478.8M519.4,458.6L599.6,478.3M519.6,458.9L601.6,479.2M519.9,459.1L599.9,479.1M520.1,459.3L600.5,479.4M520.4,459.5L599.1,479.3M520.6,459.7L599.2,479.7M520.8,460.0L601.5,479.6M521.1,460.2L599.4,480.1M521.3,460.4L599.2,480.1M521.6,460.6L601.4,481.9M521.8,460.9L600.6,481.8M522.1,461.1L601.1,481.6M522.3,461.3L600.6,482.4M522.5,461.5L601.1,482.8M522.8,461.7L599.5,483.2M523.0,462.0L598.5,483.6M523.3,462.2L597.4,483.1M523.5,462.4L599.3,483.8M523.7,462.6L598.9,484.7M524.0,462.8L597.3,484.3M524.2,463.1L600.0,486.2M524.5,463.3L599.5,487.0M524.7,463.5L598.4,487.0M525.0,463.7L595.9,486.7M525.2,464.0L597.6,488.3M525.4,464.2L596.6,488.5M525.7,464.4L598.5,489.0M525.9,464.6L596.6,489.2M526.2,464.8L594.7,489.6M526.4,465.1L597.0,490.5M526.7,465.3L597.9,492.0M526.9,465.5L596.1,490.5M526.9,465.5L575.1,499.3M581.2,488.6L588.1,491.9M578.8,493.3L579.3,493.6M576.0,497.9L573.1,496.1M572.6,502.8L566.7,498.3M568.8,507.4L570.0,508.4M564.7,511.7L569.3,516.4M524.0,472.0L556.2,514.6M519.3,475.0L555.4,536.2M519.4,475.4L554.4,533.9M519.4,475.7L554.5,533.7M519.5,476.1L554.8,535.8M519.5,476.4L552.3,535.3M520.2,476.8L554.0,538.5M519.8,477.1L551.5,535.5M520.3,477.5L552.6,537.1M520.2,477.8L551.8,539.5M520.1,478.2L548.6,534.2M520.3,478.5L550.3,539.2M520.0,478.9L548.1,535.9M520.0,479.2L549.6,539.8M520.5,479.6L548.5,540.8M520.5,479.9L548.3,541.7M520.1,480.3L547.7,541.6M520.3,480.6L544.9,536.3M520.4,481.0L545.4,536.8M520.8,481.3L546.9,542.6M521.0,481.7L544.2,538.3M520.4,482.0L542.0,536.7M521.0,482.4L543.9,543.1M520.7,482.7L543.6,542.4M521.0,483.1L542.5,541.8M520.7,483.4L540.1,538.6M521.2,483.8L540.2,541.9M516.9,487.9L525.5,539.2M507.5,491.2L505.3,546.7M510.0,490.5L498.3,538.9M505.8,493.0L484.2,542.1M500.0,494.7L477.5,527.8M491.1,493.4L467.2,521.9M482.0,490.3L453.2,530.0M481.5,490.2L453.5,528.4M481.0,490.1L452.1,529.1M480.4,490.1L451.1,527.7M479.9,490.0L449.6,529.9M479.4,489.9L448.0,526.8M478.9,489.8L449.8,525.4M478.3,489.7L447.2,527.3M477.8,489.6L447.2,527.0M477.3,489.6L451.5,520.0M476.8,489.5L450.5,520.0M476.3,489.4L445.1,526.5M475.7,489.3L447.1,521.9M475.2,489.2L445.8,522.2M474.7,489.2L447.6,519.1M474.1,489.1L443.7,521.1M473.2,489.2L447.6,517.7M472.4,489.3L442.6,522.8M471.5,489.4L441.7,522.3M470.6,489.4L445.6,515.8M469.8,489.5L441.0,521.0M468.9,489.6L441.8,520.1M468.1,489.7L442.6,518.3M467.2,489.8L439.9,518.1M466.3,489.9L443.7,515.5M465.5,489.9L439.6,518.4M464.6,490.0L440.0,516.3M463.8,490.1L440.2,515.8M462.9,490.2L441.9,512.7M462.0,490.3L442.1,510.8M461.3,490.3L440.5,511.0M460.7,490.4L437.8,512.7M460.1,490.4L438.6,510.4M459.5,490.5L438.6,509.1M458.9,490.5L434.9,511.9M458.3,490.6L435.2,510.5M457.7,490.6L433.4,513.3M457.1,490.7L434.5,511.5M456.5,490.7L433.5,509.7M455.9,490.8L437.8,507.6M455.3,490.8L430.7,510.4M454.7,490.8L432.0,510.3M454.1,490.9L437.1,504.9M453.5,490.9L433.8,504.5M452.9,491.0L433.0,506.5M452.4,490.8L431.6,506.3M452.1,490.6L433.8,505.0M451.7,490.4L433.5,502.0M451.4,490.2L432.5,504.1M451.1,490.0L433.6,502.4M450.7,489.8L434.8,500.1M450.4,489.5L427.0,503.0M450.0,489.3L434.1,499.4M449.7,489.1L429.5,501.0M449.3,488.9L432.1,498.8M449.0,488.7L429.1,498.3M448.6,488.5L429.3,497.4M448.3,488.2L432.0,497.7M447.9,488.0L424.6,500.1M447.6,487.8L423.4,498.3M444.7,485.8L429.9,493.0M445.7,487.9L424.6,499.1M441.1,481.5L433.9,484.4M438.1,477.5L426.9,481.2M438.7,479.2L418.9,486.2M435.2,472.8L421.9,476.1M433.5,466.5L424.2,468.0M434.0,469.4L415.3,473.2M432.8,461.1L426.7,461.6M432.5,456.5L422.2,456.8M432.6,458.6L413.6,459.7M432.1,452.2L425.9,452.1M431.5,447.0L418.7,445.8M431.3,449.8L413.6,448.8M431.1,441.0L421.9,439.4M431.2,435.8L422.3,433.7M430.8,437.6L415.5,434.4M431.5,431.6L422.3,428.9M432.3,426.3L423.3,423.0M431.2,429.2L418.0,425.0M433.5,420.5L427.5,417.8M435.0,415.5L429.2,412.5M433.9,417.8L423.0,412.5M437.0,410.4L432.4,407.6M439.1,405.7L434.2,402.3M438.0,407.4L429.2,401.6M441.2,401.7L436.4,398.0M441.4,394.0L439.1,392.0M438.9,397.0L434.9,393.7M441.1,387.2L442.4,388.4" fill="none" stroke="#555" stroke-width="0.5"/>
<path d="M509.3,358.4 L510.3,360.6 L511.3,361.4 L512.2,361.7 L513.2,361.5 L514.2,360.7 L515.3,358.6M516.0,358.7 L516.8,361.5 L517.7,362.6 L518.6,363.1 L519.5,363.1 L520.6,362.8 L521.7,361.7M523.7,359.5 L523.9,364.2 L524.5,366.3 L525.2,367.7 L525.9,368.8 L526.7,369.7 L527.5,370.3 L528.3,370.7 L529.1,371.0 L530.0,371.1 L531.0,371.1 L532.0,370.8 L533.0,370.4 L534.2,369.7 L535.5,368.6 L537.0,366.9M540.2,363.6 L539.3,369.0 L539.5,371.4 L539.8,373.1 L540.3,374.3 L540.9,375.3 L541.6,376.0 L542.3,376.4 L543.2,376.7 L544.1,376.7 L545.2,376.6 L546.4,376.1 L547.8,375.3 L549.6,373.9 L552.3,370.7M554.0,369.6 L553.4,372.8 L553.5,374.5 L553.9,375.8 L554.4,376.9 L554.9,377.8 L555.5,378.5 L556.2,379.2 L557.0,379.7 L557.8,380.2 L558.7,380.5 L559.7,380.8 L560.7,380.9 L561.9,380.8 L563.3,380.6 L565.0,379.9M568.0,378.7 L567.2,381.3 L567.2,382.8 L567.5,384.0 L567.9,385.0 L568.5,385.8 L569.2,386.4 L569.9,387.0 L570.8,387.4 L571.9,387.7 L573.2,387.7 L574.9,387.4M575.7,389.8 L575.5,391.1 L575.2,392.4 L574.7,394.0 L573.8,395.9 L575.9,395.0 L574.9,396.9 L575.9,397.0 L577.1,397.1 L580.4,395.4 L581.1,395.8M582.6,395.6 L581.3,397.7 L580.3,399.5 L579.2,401.3 L580.7,401.1 L578.6,403.6 L580.4,403.3 L582.2,402.9 L583.2,403.2 L584.7,403.2 L586.1,403.2 L587.8,403.0M587.9,403.9 L585.7,406.3 L587.1,406.3 L587.2,407.2 L584.0,410.0 L585.9,409.8 L587.4,409.9 L588.9,409.9 L589.4,410.6 L591.4,410.4M592.0,411.0 L590.3,412.8 L590.8,413.4 L587.4,416.0 L590.2,415.5 L588.8,417.0 L588.7,417.9 L592.2,417.1 L591.9,418.1 L594.4,418.0M595.5,418.4 L593.4,420.1 L594.4,420.6 L593.0,422.0 L593.6,422.6 L591.4,424.2 L594.2,424.0 L594.8,424.7 L594.8,425.5 L597.7,425.4M597.8,426.2 L597.3,427.2 L596.6,428.2 L595.5,429.4 L595.9,430.1 L596.2,430.8 L595.6,431.8 L596.3,432.4 L596.0,433.3 L594.6,434.4 L595.5,435.0 L597.3,435.4 L598.5,436.0 L599.8,436.5 L601.8,437.0M602.3,437.7 L600.2,438.9 L599.3,439.9 L600.0,440.6 L598.4,441.6 L598.0,442.5 L598.9,443.2 L599.6,443.9 L600.2,444.6 L601.8,445.3 L602.9,446.0M603.8,446.9 L601.8,447.9 L600.3,448.8 L600.3,449.6 L602.1,450.3 L602.6,451.1M601.8,451.9 L599.0,452.8 L599.7,453.6 L596.3,454.4 L596.9,455.1 L596.0,455.9 L598.1,456.7 L598.6,457.5M601.0,459.0 L597.7,459.6 L597.9,460.4 L595.6,461.0 L594.1,461.6 L592.6,462.2 L594.4,463.2 L591.4,463.6 L592.1,464.4 L593.9,465.4 L593.5,466.1 L594.8,467.0 L597.7,468.2 L600.1,469.4M602.2,476.6 L601.8,477.2 L600.2,477.5 L598.9,477.8 L599.8,478.7 L599.2,479.2 L599.5,480.0 L599.0,480.5 L596.3,480.4 L598.1,481.6 L595.7,481.5 L595.6,482.2 L596.6,483.2 L597.6,484.2 L594.7,483.9 L596.4,485.1 L596.5,485.9 L596.7,486.7 L594.4,486.5 L596.0,487.8 L596.5,488.7 L596.0,489.2 L596.9,490.2 L595.9,490.5 L596.5,491.5 L596.9,492.4M594.0,491.7 L590.8,491.0 L592.2,492.5 L588.8,491.7 L589.3,492.7 L587.0,492.3 L588.6,493.9 L591.3,496.1M590.4,496.6 L587.2,495.7 L579.7,492.4 L582.5,494.7 L578.6,493.2 L580.8,495.2 L581.1,496.2 L583.4,498.3M584.7,500.2 L582.9,499.9 L575.6,496.2 L577.2,497.9 L573.0,495.9 L575.8,498.5 L577.4,500.4 L577.5,501.2 L580.8,504.3M581.6,505.6 L573.8,500.9 L571.8,500.2 L574.7,503.1 L570.7,500.9 L567.6,499.2 L564.3,497.4 L566.6,499.9 L571.6,504.7 L577.3,510.2M578.5,512.1 L575.8,510.8 L573.1,509.3 L570.5,507.9 L569.3,507.7 L570.7,509.8 L569.2,509.4 L572.9,513.7 L574.5,516.1M575.7,518.1 L574.6,518.1 L573.0,517.6 L570.0,515.5 L571.7,518.2 L567.9,515.3 L568.7,517.1 L569.8,519.3 L570.5,521.1 L570.0,521.6M566.9,519.7 L566.5,520.2 L563.1,517.3 L561.1,515.9 L559.9,515.5 L559.7,516.3 L559.8,517.4 L555.4,512.8 L553.7,511.6 L559.2,519.8 L558.3,519.6 L555.1,516.4 L555.9,518.5 L557.3,521.5 L560.6,527.3M560.6,528.7 L556.8,524.3 L554.7,522.5 L554.3,523.0 L555.9,526.6 L551.4,520.9 L554.4,526.8 L552.9,525.7 L552.4,526.2 L554.1,530.3M556.5,535.9 L555.0,534.7 L554.0,534.4 L552.7,533.6 L552.5,534.6 L552.3,535.8 L552.0,536.7 L551.2,536.9 L551.1,538.2 L549.9,537.6M549.7,538.8 L547.9,536.7 L548.0,538.7 L546.4,536.7 L544.7,534.7 L544.3,535.6 L543.8,536.3 L543.2,536.5 L543.4,538.9 L542.8,539.4 L542.3,540.1 L541.6,540.2 L541.2,541.2M540.5,542.2 L539.9,542.6 L538.9,541.9 L538.0,541.6 L537.3,541.8 L536.3,541.2 L535.6,541.2 L534.6,540.5 L534.6,543.0 L533.1,540.1 L533.1,542.9 L532.1,541.9 L531.8,543.8M530.9,544.2 L529.9,542.8 L528.4,539.8 L528.5,543.1 L527.0,539.5 L526.6,541.2 L525.3,538.2 L524.7,538.2 L524.7,542.6 L524.1,543.1 L523.7,544.7 L522.9,544.5 L522.4,546.2M521.6,547.3 L520.4,544.1 L519.9,545.3 L519.1,544.9 L518.3,543.7 L517.6,544.2 L516.6,541.4 L516.0,541.7 L515.5,545.1 L514.8,545.3 L514.0,544.1 L513.3,544.0 L512.7,546.2M511.8,548.8 L511.0,545.6 L510.3,547.6 L509.6,546.9 L508.8,544.0 L508.1,546.2 L507.4,548.0 L506.6,548.1M509.4,452.4 L513.8,451.0 L518.1,457.5 L526.9,465.5 L521.1,473.6 L519.6,483.8 L516.9,487.9 L510.0,490.5 L506.1,492.9 L501.0,494.8 L493.4,494.2 L482.0,490.3 L474.3,489.1 L461.6,490.3 L452.7,491.0 L447.6,487.8M505.7,548.5 L505.1,547.2 L504.6,545.2 L503.9,546.1 L503.2,546.2 L502.6,545.5 L501.9,546.2 L501.4,545.3 L500.6,546.5 L500.0,546.1 L499.1,548.6M498.7,547.1 L498.3,545.2 L498.3,540.2 L497.8,539.5 L497.3,538.2 L496.6,539.4 L495.6,541.6 L494.6,543.9 L494.4,541.6 L493.2,544.8M492.0,545.9 L491.9,543.2 L491.4,542.4 L491.8,537.0 L491.8,534.3 L490.2,538.9 L491.0,532.7 L489.6,536.3 L489.6,533.7 L489.2,533.1 L487.9,535.9 L487.3,535.7 L485.7,539.5 L484.2,542.6M482.6,543.4 L482.7,540.7 L481.9,541.2 L481.9,539.2 L481.4,538.7 L480.4,539.7 L480.4,537.6 L479.8,537.6 L479.1,537.6 L478.6,537.1 L477.2,539.3 L476.7,538.8M475.5,539.3 L476.3,535.4 L476.0,534.8 L475.8,533.5 L475.3,533.1 L476.0,530.1 L474.1,532.9 L474.0,531.8 L473.2,531.9 L471.8,533.7 L470.1,535.7 L468.5,537.7M466.9,538.6 L467.3,536.3 L467.6,534.5 L467.8,532.7 L467.5,531.9 L466.2,533.0 L467.7,529.0 L465.4,531.9 L465.9,529.7 L463.3,533.0 L464.3,530.1 L463.1,530.8 L462.7,530.3 L461.4,531.3M458.8,533.0 L459.5,530.7 L459.3,529.8 L459.0,529.2 L457.8,529.9 L458.4,527.9 L459.3,525.5 L456.9,527.7 L458.4,524.6 L456.3,526.5 L455.1,527.1 L453.3,528.4 L453.3,527.3 L451.9,528.1M450.6,527.7 L451.5,525.5 L451.6,524.4 L450.9,524.2 L450.2,524.1 L449.2,524.2 L450.7,521.5 L450.0,521.4 L449.7,520.7 L448.0,521.8 L448.6,520.2 L446.0,522.0 L445.4,521.7 L444.4,521.8M443.2,521.2 L444.3,519.1 L442.9,519.7 L443.9,517.7 L444.3,516.5 L442.6,517.2 L441.8,517.1 L443.4,514.8 L443.5,513.8 L442.8,513.6 L441.5,513.9 L439.8,514.6 L439.0,514.4 L438.2,514.3M436.5,513.9 L436.3,513.3 L436.2,512.5 L437.0,511.1 L437.9,509.5 L435.7,510.5 L435.0,510.2 L435.0,509.3 L435.9,507.9 L435.3,507.6 L433.4,508.1 L432.8,507.8 L432.9,506.9 L432.1,506.7M430.8,506.0 L431.9,504.4 L430.5,504.6 L431.8,503.0 L433.2,501.4 L433.9,500.2 L431.4,501.0 L433.1,499.3 L431.5,499.5 L431.6,498.7 L428.5,499.7 L429.0,498.8 L428.0,498.5M424.4,499.2 L427.4,496.8 L428.2,495.6 L428.7,494.5 L430.4,492.9 L428.0,493.3 L429.3,491.9 L427.4,492.0 L423.8,492.8M421.5,493.3 L429.8,488.8 L434.6,486.0 L430.6,487.0 L431.1,486.1 L430.7,485.6 L431.0,484.7 L430.9,484.1 L429.0,484.1 L425.5,484.6M418.7,486.3 L424.4,483.5 L424.8,482.6 L427.4,481.1 L425.6,480.9 L424.7,480.5 L417.7,481.9M417.2,481.5 L420.4,479.8 L420.5,479.0 L420.5,478.3 L421.8,477.2 L421.4,476.5 L422.5,475.5 L422.6,474.8 L420.3,474.6 L419.1,474.2 L418.0,473.6M415.1,473.3 L420.0,471.6 L423.9,470.1 L423.6,469.5 L421.8,469.1 L423.8,468.1 L422.5,467.6 L423.8,466.7 L419.9,466.6 L418.7,466.0M413.9,465.9 L421.6,464.2 L427.4,462.9 L423.5,462.6 L425.7,461.8 L428.4,460.9 L422.0,460.7 L423.8,459.9 L416.6,459.7M413.4,459.7 L419.4,458.6 L419.3,457.9 L420.7,457.2 L424.3,456.4 L420.9,455.8 L419.0,455.1M413.2,454.4 L421.8,453.7 L421.8,453.0 L425.0,452.4 L427.6,451.8 L424.3,451.1 L422.7,450.3 L416.5,449.3M413.4,448.8 L416.8,448.2 L417.3,447.5 L419.3,447.0 L419.5,446.3 L419.9,445.6 L418.1,444.7 L419.2,444.1 L417.4,443.2 L414.6,442.1M414.0,441.9 L419.5,441.9 L419.0,441.1 L420.7,440.6 L420.7,439.9 L421.8,439.4 L421.0,438.5 L422.0,438.0 L419.3,436.8 L418.2,435.8M415.3,434.3 L421.2,434.9 L420.7,434.0 L420.6,433.3 L423.2,433.2 L422.0,432.1M416.4,429.7 L421.2,430.2 L420.3,429.2 L421.3,428.7 L422.0,428.2 L421.0,427.1 L419.8,426.0M417.8,424.9 L421.1,425.2 L422.0,424.8 L421.5,423.8 L422.0,423.2 L423.7,423.1 L423.1,422.1 L423.0,421.3 L422.9,420.5 L422.3,419.4M420.5,417.5 L424.9,418.6 L427.2,418.8 L426.1,417.5 L427.5,417.4 L427.8,416.7 L425.0,414.6M422.8,412.4 L426.9,413.6 L426.7,412.7 L428.8,413.0 L427.9,411.7 L429.1,411.5 L428.7,410.5 L427.3,408.9M425.6,407.0 L429.0,408.1 L430.9,408.4 L432.4,408.5 L433.6,408.4 L433.8,407.7 L433.6,406.7 L431.2,404.4 L428.9,402.0M429.0,401.5 L432.2,402.7 L433.3,402.5 L435.1,403.0 L433.9,401.2 L433.9,400.4M431.8,397.4 L434.5,398.5 L435.1,398.0 L436.3,398.0 L435.9,396.8 L435.9,395.9 L435.5,394.6M434.8,393.6 L436.2,393.8 L437.1,393.6 L437.4,392.9 L438.7,393.0 L439.0,392.3 L439.2,391.5 L439.9,391.2 L439.9,390.1 L440.1,389.4 L440.6,388.8M440.4,387.3 L442.0,387.8M446.2,487.6 L445.4,485.2 L443.6,483.3 L440.5,481.9 L439.5,479.5 L437.3,477.5 L437.4,474.7 L435.0,472.7 L434.9,469.9 L433.2,467.6 L433.0,464.9 L432.7,462.2 L433.2,459.5 L431.6,456.9 L433.3,454.2 L432.9,451.5 L431.3,448.8 L432.2,446.1 L432.1,443.4 L431.2,440.5 L430.8,437.6 L430.5,434.6 L431.1,431.9 L432.6,429.4 L432.0,426.2 L432.2,423.2 L434.1,420.9 L433.8,417.5 L435.6,415.2 L436.6,412.4 L438.2,410.0 L438.2,406.4 L439.9,404.0 L440.8,400.9 L441.9,397.9 L441.9,393.8 L441.6,389.1 L440.7,385.9" fill="none" stroke="#5a5a5a" stroke-width="0.55"/>
<path d="M566.19,398.97 A79.5,79.5 0 0 1 571.65,405.25" fill="none" stroke="#555" stroke-width="0.55"/>
<path d="M571.65,405.25 A79.5,79.5 0 0 1 576.42,412.07" fill="none" stroke="#555" stroke-width="0.55"/>
<path d="M577.27,411.54 A80.5,80.5 0 0 1 580.73,417.65" fill="none" stroke="#555" stroke-width="0.55"/>
<path d="M580.73,417.65 A80.5,80.5 0 0 1 583.64,424.04" fill="none" stroke="#555" stroke-width="0.55"/>
<path d="M584.10,423.86 A81,81 0 0 1 586.46,430.52" fill="none" stroke="#555" stroke-width="0.55"/>
<path d="M587.42,430.23 A82,82 0 0 1 589.49,438.55" fill="none" stroke="#555" stroke-width="0.55"/>
<path d="M588.97,452.11 A80,80 0 0 1 587.90,467.40" fill="none" stroke="#555" stroke-width="0.55"/>
<path d="M581.80,487.38 A80,80 0 0 1 563.56,512.71" fill="none" stroke="#555" stroke-width="0.55"/>
<path d="M509.0,357.60 A96.6,96.6 0 1 1 440.69,385.89" fill="none" stroke="#555" stroke-width="1.3"/>
</svg>
</body></html>
